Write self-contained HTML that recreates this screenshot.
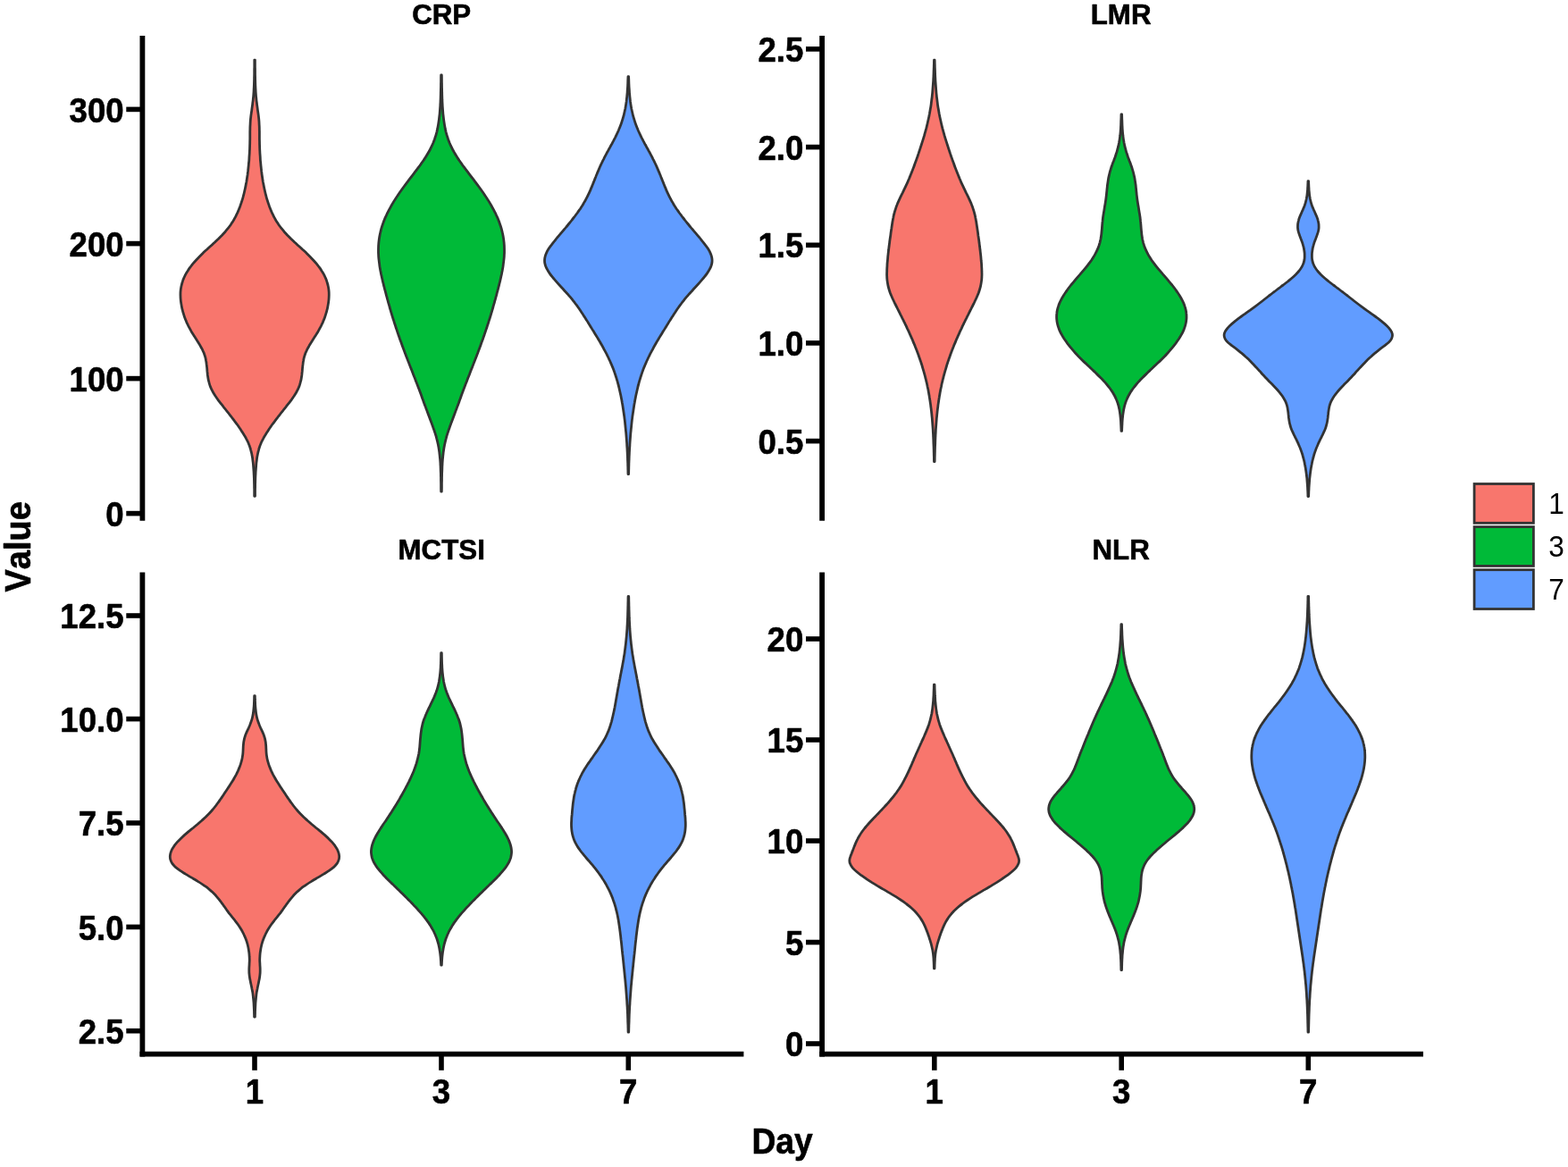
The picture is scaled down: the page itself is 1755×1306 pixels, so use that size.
<!DOCTYPE html>
<html lang="en"><head><meta charset="utf-8"><title>Violin plots: CRP, LMR, MCTSI, NLR by Day</title>
<style>
html,body{margin:0;padding:0;background:#fff;}
body{width:1755px;height:1306px;overflow:hidden;}
svg{display:block;}
text{font-family:"Liberation Sans", Arial, Helvetica, sans-serif;fill:#000;font-kerning:none;}
.b{font-weight:700;stroke:#000;stroke-width:0.6px;stroke-linejoin:round;}
.tk{font-size:36.6px;font-weight:700;}
.tt{font-size:31.3px;font-weight:700;}
.al{font-size:37.6px;font-weight:700;}
.lg{font-size:31.6px;font-weight:400;}
.ax{stroke:#000;fill:none;}
.v{stroke:#333333;stroke-width:2.8;stroke-linejoin:round;stroke-linecap:butt;}
</style></head><body>
<svg width="1755" height="1306" viewBox="0 0 1755 1306">
<rect x="0" y="0" width="1755" height="1306" fill="#fff"/>
<g class="v">
<path fill="#F8766D" d="M284.8 67.1L285.4 67.1C285.4 68.4 285.4 69.8 285.4 71.1C285.4 72.4 285.4 73.8 285.4 75.1C285.5 76.4 285.5 77.8 285.5 79.1C285.5 80.4 285.5 81.8 285.5 83.1C285.5 84.4 285.6 85.8 285.6 87.1C285.6 88.4 285.6 89.8 285.7 91.1C285.7 92.4 285.8 93.8 285.8 95.1C285.9 96.4 285.9 97.8 286 99.1C286.1 100.4 286.1 101.8 286.2 103.1C286.3 104.4 286.4 105.8 286.5 107.1C286.6 108.5 286.8 109.8 286.9 111.1C287 112.5 287.2 113.8 287.4 115.1C287.5 116.5 287.7 117.8 287.9 119.1C288.1 120.5 288.3 121.8 288.4 123.1C288.6 124.5 288.8 125.8 289 127.1C289.2 128.5 289.4 129.8 289.5 131.1C289.7 132.5 289.8 133.8 289.9 135.1C290 136.5 290.1 137.8 290.1 139.1C290.2 140.5 290.3 141.8 290.3 143.1C290.3 144.5 290.3 145.8 290.4 147.1C290.4 148.5 290.4 149.8 290.4 151.1C290.4 152.5 290.4 153.8 290.4 155.1C290.4 156.5 290.5 157.8 290.5 159.1C290.5 160.5 290.5 161.8 290.6 163.1C290.6 164.5 290.7 165.8 290.7 167.1C290.8 168.5 290.9 169.8 290.9 171.1C291 172.5 291.1 173.8 291.2 175.1C291.3 176.5 291.3 177.8 291.4 179.1C291.5 180.5 291.7 181.8 291.8 183.1C291.9 184.5 292 185.8 292.2 187.1C292.3 188.5 292.5 189.8 292.6 191.2C292.8 192.5 292.9 193.8 293.1 195.2C293.3 196.5 293.5 197.8 293.7 199.2C293.9 200.5 294.1 201.8 294.3 203.2C294.6 204.5 294.8 205.8 295.1 207.2C295.3 208.5 295.6 209.8 295.9 211.2C296.2 212.5 296.5 213.8 296.8 215.2C297.1 216.5 297.4 217.8 297.8 219.2C298.1 220.5 298.5 221.8 298.9 223.2C299.3 224.5 299.7 225.8 300.2 227.2C300.6 228.5 301.1 229.8 301.6 231.2C302.1 232.5 302.6 233.8 303.2 235.2C303.7 236.5 304.3 237.8 304.9 239.2C305.6 240.5 306.2 241.8 306.9 243.2C307.6 244.5 308.4 245.8 309.2 247.2C310 248.5 310.9 249.8 311.8 251.2C312.7 252.5 313.7 253.8 314.7 255.2C315.8 256.5 316.9 257.8 318 259.2C319.2 260.5 320.4 261.8 321.7 263.2C323 264.5 324.3 265.8 325.7 267.2C327.1 268.5 328.5 269.8 329.9 271.2C331.4 272.5 332.8 273.9 334.3 275.2C335.8 276.5 337.3 277.9 338.7 279.2C340.2 280.5 341.6 281.9 343 283.2C344.3 284.5 345.7 285.9 347 287.2C348.3 288.5 349.6 289.9 350.8 291.2C352 292.5 353.2 293.9 354.3 295.2C355.4 296.5 356.4 297.9 357.4 299.2C358.4 300.5 359.3 301.9 360.1 303.2C361 304.5 361.8 305.9 362.5 307.2C363.2 308.5 363.8 309.9 364.4 311.2C365 312.5 365.5 313.9 365.9 315.2C366.4 316.5 366.7 317.9 367 319.2C367.4 320.5 367.6 321.9 367.8 323.2C368 324.5 368.1 325.9 368.2 327.2C368.2 328.5 368.3 329.9 368.2 331.2C368.2 332.5 368.1 333.9 368 335.2C367.9 336.5 367.7 337.9 367.5 339.2C367.3 340.5 367.1 341.9 366.8 343.2C366.6 344.5 366.3 345.9 365.9 347.2C365.6 348.5 365.2 349.9 364.8 351.2C364.4 352.6 364 353.9 363.5 355.2C363 356.6 362.5 357.9 361.9 359.2C361.4 360.6 360.8 361.9 360.1 363.2C359.5 364.6 358.8 365.9 358.1 367.2C357.4 368.6 356.6 369.9 355.9 371.2C355.1 372.6 354.2 373.9 353.4 375.2C352.5 376.6 351.7 377.9 350.8 379.2C349.9 380.6 349.1 381.9 348.3 383.2C347.4 384.6 346.6 385.9 345.9 387.2C345.1 388.6 344.4 389.9 343.7 391.2C343.1 392.6 342.5 393.9 341.9 395.2C341.4 396.6 341 397.9 340.6 399.2C340.2 400.6 339.9 401.9 339.7 403.2C339.4 404.6 339.2 405.9 339.1 407.2C338.9 408.6 338.8 409.9 338.6 411.2C338.5 412.6 338.4 413.9 338.3 415.2C338.1 416.6 338 417.9 337.9 419.2C337.7 420.6 337.5 421.9 337.3 423.2C337.1 424.6 336.8 425.9 336.4 427.2C336.1 428.6 335.7 429.9 335.3 431.2C334.8 432.6 334.3 433.9 333.6 435.3C333 436.6 332.3 437.9 331.6 439.3C330.8 440.6 330 441.9 329.1 443.3C328.2 444.6 327.2 445.9 326.3 447.3C325.3 448.6 324.3 449.9 323.2 451.3C322.2 452.6 321.1 453.9 320.1 455.3C319 456.6 317.9 457.9 316.9 459.3C315.8 460.6 314.7 461.9 313.7 463.3C312.6 464.6 311.6 465.9 310.6 467.3C309.6 468.6 308.5 469.9 307.6 471.3C306.6 472.6 305.6 473.9 304.6 475.3C303.7 476.6 302.7 477.9 301.8 479.3C300.9 480.6 300.1 481.9 299.2 483.3C298.4 484.6 297.5 485.9 296.7 487.3C295.9 488.6 295.1 489.9 294.4 491.3C293.7 492.6 293 493.9 292.4 495.3C291.9 496.6 291.3 497.9 290.8 499.3C290.4 500.6 289.9 501.9 289.6 503.3C289.2 504.6 288.9 505.9 288.6 507.3C288.3 508.6 288.1 509.9 287.8 511.3C287.6 512.6 287.4 513.9 287.3 515.3C287.1 516.6 286.9 518 286.8 519.3C286.7 520.6 286.6 522 286.5 523.3C286.4 524.6 286.3 526 286.2 527.3C286.1 528.6 286.1 530 286 531.3C285.9 532.6 285.9 534 285.8 535.3C285.8 536.6 285.7 538 285.7 539.3C285.7 540.6 285.6 542 285.6 543.3C285.6 544.6 285.6 546 285.5 547.3C285.5 548.6 285.5 550 285.5 551.3C285.5 552.6 285.5 554 285.5 555.3L284.7 555.3C284.7 554 284.7 552.6 284.7 551.3C284.7 550 284.7 548.6 284.7 547.3C284.6 546 284.6 544.6 284.6 543.3C284.6 542 284.5 540.6 284.5 539.3C284.5 538 284.4 536.6 284.4 535.3C284.3 534 284.3 532.6 284.2 531.3C284.1 530 284.1 528.6 284 527.3C283.9 526 283.8 524.6 283.7 523.3C283.6 522 283.5 520.6 283.4 519.3C283.3 518 283.1 516.6 282.9 515.3C282.8 513.9 282.6 512.6 282.4 511.3C282.1 509.9 281.9 508.6 281.6 507.3C281.3 505.9 281 504.6 280.6 503.3C280.3 501.9 279.8 500.6 279.4 499.3C278.9 497.9 278.3 496.6 277.8 495.3C277.2 493.9 276.5 492.6 275.8 491.3C275.1 489.9 274.3 488.6 273.5 487.3C272.7 485.9 271.8 484.6 271 483.3C270.1 481.9 269.3 480.6 268.4 479.3C267.5 477.9 266.5 476.6 265.6 475.3C264.6 473.9 263.6 472.6 262.6 471.3C261.7 469.9 260.6 468.6 259.6 467.3C258.6 465.9 257.6 464.6 256.5 463.3C255.5 461.9 254.4 460.6 253.3 459.3C252.3 457.9 251.2 456.6 250.1 455.3C249.1 453.9 248 452.6 247 451.3C245.9 449.9 244.9 448.6 243.9 447.3C243 445.9 242 444.6 241.1 443.3C240.2 441.9 239.4 440.6 238.6 439.3C237.9 437.9 237.2 436.6 236.6 435.3C235.9 433.9 235.4 432.6 234.9 431.2C234.5 429.9 234.1 428.6 233.8 427.2C233.4 425.9 233.1 424.6 232.9 423.2C232.7 421.9 232.5 420.6 232.3 419.2C232.2 417.9 232.1 416.6 231.9 415.2C231.8 413.9 231.7 412.6 231.6 411.2C231.4 409.9 231.3 408.6 231.1 407.2C231 405.9 230.8 404.6 230.5 403.2C230.3 401.9 230 400.6 229.6 399.2C229.2 397.9 228.8 396.6 228.3 395.2C227.7 393.9 227.1 392.6 226.5 391.2C225.8 389.9 225.1 388.6 224.3 387.2C223.6 385.9 222.8 384.6 221.9 383.2C221.1 381.9 220.3 380.6 219.4 379.2C218.5 377.9 217.7 376.6 216.8 375.2C216 373.9 215.1 372.6 214.3 371.2C213.6 369.9 212.8 368.6 212.1 367.2C211.4 365.9 210.7 364.6 210.1 363.2C209.4 361.9 208.8 360.6 208.3 359.2C207.7 357.9 207.2 356.6 206.7 355.2C206.2 353.9 205.8 352.6 205.4 351.2C205 349.9 204.6 348.5 204.3 347.2C203.9 345.9 203.6 344.5 203.4 343.2C203.1 341.9 202.9 340.5 202.7 339.2C202.5 337.9 202.3 336.5 202.2 335.2C202.1 333.9 202 332.5 202 331.2C201.9 329.9 202 328.5 202 327.2C202.1 325.9 202.2 324.5 202.4 323.2C202.6 321.9 202.8 320.5 203.2 319.2C203.5 317.9 203.8 316.5 204.3 315.2C204.7 313.9 205.2 312.5 205.8 311.2C206.4 309.9 207 308.5 207.7 307.2C208.4 305.9 209.2 304.5 210.1 303.2C210.9 301.9 211.8 300.5 212.8 299.2C213.8 297.9 214.8 296.5 215.9 295.2C217 293.9 218.2 292.5 219.4 291.2C220.6 289.9 221.9 288.5 223.2 287.2C224.5 285.9 225.9 284.5 227.2 283.2C228.6 281.9 230 280.5 231.5 279.2C232.9 277.9 234.4 276.5 235.9 275.2C237.4 273.9 238.8 272.5 240.3 271.2C241.7 269.8 243.1 268.5 244.5 267.2C245.9 265.8 247.2 264.5 248.5 263.2C249.8 261.8 251 260.5 252.2 259.2C253.3 257.8 254.4 256.5 255.5 255.2C256.5 253.8 257.5 252.5 258.4 251.2C259.3 249.8 260.2 248.5 261 247.2C261.8 245.8 262.6 244.5 263.3 243.2C264 241.8 264.6 240.5 265.3 239.2C265.9 237.8 266.5 236.5 267 235.2C267.6 233.8 268.1 232.5 268.6 231.2C269.1 229.8 269.6 228.5 270 227.2C270.5 225.8 270.9 224.5 271.3 223.2C271.7 221.8 272.1 220.5 272.4 219.2C272.8 217.8 273.1 216.5 273.4 215.2C273.7 213.8 274 212.5 274.3 211.2C274.6 209.8 274.9 208.5 275.1 207.2C275.4 205.8 275.6 204.5 275.9 203.2C276.1 201.8 276.3 200.5 276.5 199.2C276.7 197.8 276.9 196.5 277.1 195.2C277.3 193.8 277.4 192.5 277.6 191.2C277.7 189.8 277.9 188.5 278 187.1C278.2 185.8 278.3 184.5 278.4 183.1C278.5 181.8 278.7 180.5 278.8 179.1C278.9 177.8 278.9 176.5 279 175.1C279.1 173.8 279.2 172.5 279.3 171.1C279.3 169.8 279.4 168.5 279.5 167.1C279.5 165.8 279.6 164.5 279.6 163.1C279.7 161.8 279.7 160.5 279.7 159.1C279.7 157.8 279.8 156.5 279.8 155.1C279.8 153.8 279.8 152.5 279.8 151.1C279.8 149.8 279.8 148.5 279.8 147.1C279.9 145.8 279.9 144.5 279.9 143.1C279.9 141.8 280 140.5 280.1 139.1C280.1 137.8 280.2 136.5 280.3 135.1C280.4 133.8 280.5 132.5 280.7 131.1C280.8 129.8 281 128.5 281.2 127.1C281.4 125.8 281.6 124.5 281.8 123.1C281.9 121.8 282.1 120.5 282.3 119.1C282.5 117.8 282.7 116.5 282.8 115.1C283 113.8 283.2 112.5 283.3 111.1C283.4 109.8 283.6 108.5 283.7 107.1C283.8 105.8 283.9 104.4 284 103.1C284.1 101.8 284.1 100.4 284.2 99.1C284.3 97.8 284.3 96.4 284.4 95.1C284.4 93.8 284.5 92.4 284.5 91.1C284.6 89.8 284.6 88.4 284.6 87.1C284.6 85.8 284.7 84.4 284.7 83.1C284.7 81.8 284.7 80.4 284.7 79.1C284.7 77.8 284.7 76.4 284.8 75.1C284.8 73.8 284.8 72.4 284.8 71.1C284.8 69.8 284.8 68.4 284.8 67.1Z"/>
<path fill="#00BA38" d="M493.7 83.8L494.3 83.8C494.4 85.1 494.4 86.5 494.4 87.8C494.4 89.1 494.4 90.4 494.4 91.8C494.5 93.1 494.5 94.4 494.5 95.8C494.5 97.1 494.5 98.4 494.6 99.7C494.6 101.1 494.6 102.4 494.7 103.7C494.7 105.1 494.7 106.4 494.8 107.7C494.8 109 494.9 110.4 494.9 111.7C495 113 495 114.4 495.1 115.7C495.2 117 495.2 118.3 495.3 119.7C495.4 121 495.5 122.3 495.6 123.7C495.7 125 495.8 126.3 495.9 127.6C496.1 129 496.2 130.3 496.4 131.6C496.5 133 496.7 134.3 496.9 135.6C497.1 136.9 497.3 138.3 497.5 139.6C497.7 140.9 498 142.3 498.2 143.6C498.5 144.9 498.8 146.2 499.1 147.6C499.5 148.9 499.8 150.2 500.2 151.6C500.6 152.9 501.1 154.2 501.5 155.5C502 156.9 502.5 158.2 503 159.5C503.6 160.9 504.1 162.2 504.8 163.5C505.4 164.8 506 166.2 506.7 167.5C507.4 168.8 508.2 170.2 509 171.5C509.7 172.8 510.5 174.1 511.4 175.5C512.2 176.8 513.1 178.1 514 179.5C514.9 180.8 515.8 182.1 516.8 183.4C517.7 184.8 518.7 186.1 519.7 187.4C520.7 188.8 521.7 190.1 522.7 191.4C523.7 192.7 524.7 194.1 525.7 195.4C526.7 196.7 527.7 198.1 528.8 199.4C529.8 200.7 530.8 202 531.8 203.4C532.8 204.7 533.8 206 534.8 207.3C535.8 208.7 536.7 210 537.7 211.3C538.7 212.7 539.6 214 540.5 215.3C541.4 216.6 542.4 218 543.2 219.3C544.1 220.6 545 222 545.8 223.3C546.7 224.6 547.5 225.9 548.3 227.3C549.1 228.6 549.8 229.9 550.6 231.3C551.3 232.6 552 233.9 552.7 235.2C553.4 236.6 554.1 237.9 554.8 239.2C555.4 240.6 556 241.9 556.6 243.2C557.2 244.5 557.7 245.9 558.2 247.2C558.8 248.5 559.2 249.9 559.7 251.2C560.2 252.5 560.6 253.8 561 255.2C561.4 256.5 561.7 257.8 562 259.2C562.4 260.5 562.6 261.8 562.9 263.1C563.2 264.5 563.4 265.8 563.6 267.1C563.8 268.5 563.9 269.8 564.1 271.1C564.2 272.4 564.3 273.8 564.4 275.1C564.4 276.4 564.5 277.8 564.5 279.1C564.5 280.4 564.5 281.7 564.5 283.1C564.4 284.4 564.3 285.7 564.3 287.1C564.2 288.4 564.1 289.7 563.9 291C563.8 292.4 563.6 293.7 563.4 295C563.3 296.4 563.1 297.7 562.9 299C562.6 300.3 562.4 301.7 562.2 303C561.9 304.3 561.6 305.7 561.4 307C561.1 308.3 560.8 309.6 560.5 311C560.2 312.3 559.9 313.6 559.6 315C559.3 316.3 558.9 317.6 558.6 318.9C558.3 320.3 557.9 321.6 557.6 322.9C557.2 324.3 556.9 325.6 556.5 326.9C556.2 328.2 555.8 329.6 555.5 330.9C555.1 332.2 554.7 333.6 554.4 334.9C554 336.2 553.6 337.5 553.3 338.9C552.9 340.2 552.5 341.5 552.1 342.9C551.8 344.2 551.4 345.5 551 346.8C550.6 348.2 550.2 349.5 549.8 350.8C549.4 352.2 549 353.5 548.6 354.8C548.2 356.1 547.8 357.5 547.3 358.8C546.9 360.1 546.5 361.5 546.1 362.8C545.6 364.1 545.2 365.4 544.8 366.8C544.3 368.1 543.9 369.4 543.4 370.8C543 372.1 542.5 373.4 542.1 374.7C541.6 376.1 541.1 377.4 540.7 378.7C540.2 380.1 539.7 381.4 539.2 382.7C538.8 384 538.3 385.4 537.8 386.7C537.3 388 536.8 389.4 536.3 390.7C535.8 392 535.3 393.3 534.8 394.7C534.3 396 533.8 397.3 533.3 398.7C532.8 400 532.3 401.3 531.8 402.6C531.3 404 530.7 405.3 530.2 406.6C529.7 408 529.2 409.3 528.7 410.6C528.1 411.9 527.6 413.3 527.1 414.6C526.6 415.9 526.1 417.3 525.6 418.6C525 419.9 524.5 421.2 524 422.6C523.5 423.9 523 425.2 522.5 426.6C521.9 427.9 521.4 429.2 520.9 430.5C520.4 431.9 519.9 433.2 519.4 434.5C518.9 435.8 518.4 437.2 517.9 438.5C517.4 439.8 516.9 441.2 516.4 442.5C516 443.8 515.5 445.1 515 446.5C514.5 447.8 514 449.1 513.6 450.5C513.1 451.8 512.6 453.1 512.1 454.4C511.6 455.8 511.1 457.1 510.6 458.4C510.1 459.8 509.6 461.1 509.1 462.4C508.6 463.7 508.1 465.1 507.6 466.4C507.1 467.7 506.6 469.1 506.1 470.4C505.6 471.7 505.1 473 504.6 474.4C504.1 475.7 503.6 477 503.2 478.4C502.7 479.7 502.2 481 501.8 482.3C501.4 483.7 500.9 485 500.5 486.3C500.1 487.7 499.7 489 499.4 490.3C499 491.6 498.7 493 498.4 494.3C498.1 495.6 497.8 497 497.5 498.3C497.3 499.6 497 500.9 496.8 502.3C496.6 503.6 496.4 504.9 496.2 506.3C496.1 507.6 495.9 508.9 495.8 510.2C495.7 511.6 495.5 512.9 495.4 514.2C495.3 515.6 495.2 516.9 495.1 518.2C495.1 519.5 495 520.9 494.9 522.2C494.9 523.5 494.8 524.9 494.8 526.2C494.7 527.5 494.7 528.8 494.6 530.2C494.6 531.5 494.6 532.8 494.5 534.2C494.5 535.5 494.5 536.8 494.5 538.1C494.4 539.5 494.4 540.8 494.4 542.1C494.4 543.5 494.4 544.8 494.4 546.1C494.4 547.4 494.4 548.8 494.3 550.1L493.7 550.1C493.6 548.8 493.6 547.4 493.6 546.1C493.6 544.8 493.6 543.5 493.6 542.1C493.6 540.8 493.6 539.5 493.5 538.1C493.5 536.8 493.5 535.5 493.5 534.2C493.4 532.8 493.4 531.5 493.4 530.2C493.3 528.8 493.3 527.5 493.2 526.2C493.2 524.9 493.1 523.5 493.1 522.2C493 520.9 492.9 519.5 492.9 518.2C492.8 516.9 492.7 515.6 492.6 514.2C492.5 512.9 492.3 511.6 492.2 510.2C492.1 508.9 491.9 507.6 491.8 506.3C491.6 504.9 491.4 503.6 491.2 502.3C491 500.9 490.7 499.6 490.5 498.3C490.2 497 489.9 495.6 489.6 494.3C489.3 493 489 491.6 488.6 490.3C488.3 489 487.9 487.7 487.5 486.3C487.1 485 486.6 483.7 486.2 482.3C485.8 481 485.3 479.7 484.8 478.4C484.4 477 483.9 475.7 483.4 474.4C482.9 473 482.4 471.7 481.9 470.4C481.4 469.1 480.9 467.7 480.4 466.4C479.9 465.1 479.4 463.7 478.9 462.4C478.4 461.1 477.9 459.8 477.4 458.4C476.9 457.1 476.4 455.8 475.9 454.4C475.4 453.1 474.9 451.8 474.4 450.5C474 449.1 473.5 447.8 473 446.5C472.5 445.1 472 443.8 471.6 442.5C471.1 441.2 470.6 439.8 470.1 438.5C469.6 437.2 469.1 435.8 468.6 434.5C468.1 433.2 467.6 431.9 467.1 430.5C466.6 429.2 466.1 427.9 465.5 426.6C465 425.2 464.5 423.9 464 422.6C463.5 421.2 463 419.9 462.4 418.6C461.9 417.3 461.4 415.9 460.9 414.6C460.4 413.3 459.9 411.9 459.3 410.6C458.8 409.3 458.3 408 457.8 406.6C457.3 405.3 456.7 404 456.2 402.6C455.7 401.3 455.2 400 454.7 398.7C454.2 397.3 453.7 396 453.2 394.7C452.7 393.3 452.2 392 451.7 390.7C451.2 389.4 450.7 388 450.2 386.7C449.7 385.4 449.2 384 448.8 382.7C448.3 381.4 447.8 380.1 447.3 378.7C446.9 377.4 446.4 376.1 445.9 374.7C445.5 373.4 445 372.1 444.6 370.8C444.1 369.4 443.7 368.1 443.2 366.8C442.8 365.4 442.4 364.1 441.9 362.8C441.5 361.5 441.1 360.1 440.7 358.8C440.2 357.5 439.8 356.1 439.4 354.8C439 353.5 438.6 352.2 438.2 350.8C437.8 349.5 437.4 348.2 437 346.8C436.6 345.5 436.2 344.2 435.9 342.9C435.5 341.5 435.1 340.2 434.7 338.9C434.4 337.5 434 336.2 433.6 334.9C433.3 333.6 432.9 332.2 432.5 330.9C432.2 329.6 431.8 328.2 431.5 326.9C431.1 325.6 430.8 324.3 430.4 322.9C430.1 321.6 429.7 320.3 429.4 318.9C429.1 317.6 428.7 316.3 428.4 315C428.1 313.6 427.8 312.3 427.5 311C427.2 309.6 426.9 308.3 426.6 307C426.4 305.7 426.1 304.3 425.8 303C425.6 301.7 425.4 300.3 425.1 299C424.9 297.7 424.7 296.4 424.6 295C424.4 293.7 424.2 292.4 424.1 291C423.9 289.7 423.8 288.4 423.7 287.1C423.7 285.7 423.6 284.4 423.5 283.1C423.5 281.7 423.5 280.4 423.5 279.1C423.5 277.8 423.6 276.4 423.6 275.1C423.7 273.8 423.8 272.4 423.9 271.1C424.1 269.8 424.2 268.5 424.4 267.1C424.6 265.8 424.8 264.5 425.1 263.1C425.4 261.8 425.6 260.5 426 259.2C426.3 257.8 426.6 256.5 427 255.2C427.4 253.8 427.8 252.5 428.3 251.2C428.8 249.9 429.2 248.5 429.8 247.2C430.3 245.9 430.8 244.5 431.4 243.2C432 241.9 432.6 240.6 433.2 239.2C433.9 237.9 434.6 236.6 435.3 235.2C436 233.9 436.7 232.6 437.4 231.3C438.2 229.9 438.9 228.6 439.7 227.3C440.5 225.9 441.3 224.6 442.2 223.3C443 222 443.9 220.6 444.8 219.3C445.6 218 446.6 216.6 447.5 215.3C448.4 214 449.3 212.7 450.3 211.3C451.3 210 452.2 208.7 453.2 207.3C454.2 206 455.2 204.7 456.2 203.4C457.2 202 458.2 200.7 459.2 199.4C460.3 198.1 461.3 196.7 462.3 195.4C463.3 194.1 464.3 192.7 465.3 191.4C466.3 190.1 467.3 188.8 468.3 187.4C469.3 186.1 470.3 184.8 471.2 183.4C472.2 182.1 473.1 180.8 474 179.5C474.9 178.1 475.8 176.8 476.6 175.5C477.5 174.1 478.3 172.8 479 171.5C479.8 170.2 480.6 168.8 481.3 167.5C482 166.2 482.6 164.8 483.2 163.5C483.9 162.2 484.4 160.9 485 159.5C485.5 158.2 486 156.9 486.5 155.5C486.9 154.2 487.4 152.9 487.8 151.6C488.2 150.2 488.5 148.9 488.9 147.6C489.2 146.2 489.5 144.9 489.8 143.6C490 142.3 490.3 140.9 490.5 139.6C490.7 138.3 490.9 136.9 491.1 135.6C491.3 134.3 491.5 133 491.6 131.6C491.8 130.3 491.9 129 492.1 127.6C492.2 126.3 492.3 125 492.4 123.7C492.5 122.3 492.6 121 492.7 119.7C492.8 118.3 492.8 117 492.9 115.7C493 114.4 493 113 493.1 111.7C493.1 110.4 493.2 109 493.2 107.7C493.3 106.4 493.3 105.1 493.3 103.7C493.4 102.4 493.4 101.1 493.4 99.7C493.5 98.4 493.5 97.1 493.5 95.8C493.5 94.4 493.5 93.1 493.6 91.8C493.6 90.4 493.6 89.1 493.6 87.8C493.6 86.5 493.6 85.1 493.7 83.8Z"/>
<path fill="#619CFF" d="M703 85.6L703.6 85.6C703.7 86.9 703.7 88.3 703.8 89.6C703.8 90.9 703.9 92.3 703.9 93.6C704 95 704 96.3 704.1 97.6C704.2 99 704.3 100.3 704.4 101.6C704.4 103 704.5 104.3 704.7 105.6C704.8 107 704.9 108.3 705.1 109.7C705.2 111 705.4 112.3 705.5 113.7C705.7 115 705.9 116.3 706.1 117.7C706.3 119 706.6 120.4 706.8 121.7C707.1 123 707.4 124.4 707.7 125.7C708 127 708.3 128.4 708.6 129.7C709 131 709.4 132.4 709.8 133.7C710.2 135.1 710.6 136.4 711.1 137.7C711.6 139.1 712.1 140.4 712.6 141.7C713.1 143.1 713.7 144.4 714.2 145.7C714.8 147.1 715.4 148.4 716.1 149.8C716.7 151.1 717.3 152.4 718 153.8C718.7 155.1 719.4 156.4 720.1 157.8C720.8 159.1 721.5 160.5 722.2 161.8C723 163.1 723.7 164.5 724.4 165.8C725.2 167.1 725.9 168.5 726.6 169.8C727.4 171.1 728.1 172.5 728.8 173.8C729.5 175.2 730.2 176.5 730.8 177.8C731.5 179.2 732.2 180.5 732.8 181.8C733.4 183.2 734.1 184.5 734.7 185.8C735.3 187.2 735.9 188.5 736.5 189.9C737 191.2 737.6 192.5 738.2 193.9C738.7 195.2 739.3 196.5 739.8 197.9C740.3 199.2 740.9 200.6 741.4 201.9C741.9 203.2 742.5 204.6 743 205.9C743.5 207.2 744.1 208.6 744.6 209.9C745.2 211.2 745.7 212.6 746.3 213.9C746.9 215.3 747.5 216.6 748.2 217.9C748.8 219.3 749.5 220.6 750.2 221.9C750.9 223.3 751.6 224.6 752.4 225.9C753.2 227.3 754 228.6 754.8 230C755.7 231.3 756.5 232.6 757.4 234C758.3 235.3 759.3 236.6 760.2 238C761.2 239.3 762.2 240.6 763.2 242C764.2 243.3 765.2 244.7 766.3 246C767.3 247.3 768.4 248.7 769.5 250C770.6 251.3 771.7 252.7 772.8 254C773.9 255.4 775 256.7 776.2 258C777.3 259.4 778.5 260.7 779.6 262C780.7 263.4 781.9 264.7 783 266C784.1 267.4 785.2 268.7 786.3 270.1C787.4 271.4 788.4 272.7 789.4 274.1C790.4 275.4 791.4 276.7 792.3 278.1C793.1 279.4 793.9 280.7 794.6 282.1C795.2 283.4 795.8 284.8 796.2 286.1C796.6 287.4 796.9 288.8 797 290.1C797.1 291.4 797.1 292.8 796.9 294.1C796.6 295.5 796.3 296.8 795.8 298.1C795.2 299.5 794.6 300.8 793.8 302.1C793.1 303.5 792.2 304.8 791.3 306.1C790.3 307.5 789.3 308.8 788.2 310.2C787.2 311.5 786 312.8 784.8 314.2C783.7 315.5 782.5 316.8 781.2 318.2C780 319.5 778.8 320.8 777.5 322.2C776.3 323.5 775.1 324.9 773.9 326.2C772.6 327.5 771.4 328.9 770.3 330.2C769.1 331.5 768 332.9 766.9 334.2C765.8 335.6 764.7 336.9 763.7 338.2C762.7 339.6 761.7 340.9 760.7 342.2C759.8 343.6 758.8 344.9 757.9 346.2C757 347.6 756.1 348.9 755.2 350.3C754.3 351.6 753.5 352.9 752.6 354.3C751.8 355.6 750.9 356.9 750.1 358.3C749.2 359.6 748.4 360.9 747.6 362.3C746.7 363.6 745.9 365 745.1 366.3C744.3 367.6 743.5 369 742.6 370.3C741.8 371.6 741 373 740.2 374.3C739.4 375.7 738.5 377 737.7 378.3C736.9 379.7 736.1 381 735.3 382.3C734.5 383.7 733.8 385 733 386.3C732.2 387.7 731.5 389 730.8 390.4C730 391.7 729.3 393 728.6 394.4C727.9 395.7 727.2 397 726.6 398.4C725.9 399.7 725.3 401 724.7 402.4C724 403.7 723.4 405.1 722.9 406.4C722.3 407.7 721.7 409.1 721.2 410.4C720.6 411.7 720.1 413.1 719.6 414.4C719.1 415.7 718.7 417.1 718.2 418.4C717.8 419.8 717.3 421.1 716.9 422.4C716.5 423.8 716.1 425.1 715.7 426.4C715.3 427.8 714.9 429.1 714.6 430.5C714.2 431.8 713.9 433.1 713.6 434.5C713.3 435.8 713 437.1 712.7 438.5C712.4 439.8 712.1 441.1 711.8 442.5C711.5 443.8 711.3 445.2 711 446.5C710.7 447.8 710.5 449.2 710.3 450.5C710 451.8 709.8 453.2 709.6 454.5C709.4 455.8 709.2 457.2 709 458.5C708.8 459.9 708.6 461.2 708.4 462.5C708.2 463.9 708 465.2 707.8 466.5C707.7 467.9 707.5 469.2 707.3 470.6C707.2 471.9 707 473.2 706.9 474.6C706.7 475.9 706.6 477.2 706.5 478.6C706.3 479.9 706.2 481.2 706.1 482.6C705.9 483.9 705.8 485.3 705.7 486.6C705.6 487.9 705.5 489.3 705.4 490.6C705.3 491.9 705.2 493.3 705.1 494.6C705 495.9 704.9 497.3 704.9 498.6C704.8 500 704.7 501.3 704.6 502.6C704.6 504 704.5 505.3 704.4 506.6C704.4 508 704.3 509.3 704.2 510.7C704.2 512 704.1 513.3 704.1 514.7C704 516 704 517.3 703.9 518.7C703.9 520 703.9 521.3 703.8 522.7C703.8 524 703.8 525.4 703.7 526.7C703.7 528 703.7 529.4 703.6 530.7L703 530.7C702.9 529.4 702.9 528 702.9 526.7C702.8 525.4 702.8 524 702.8 522.7C702.7 521.3 702.7 520 702.7 518.7C702.6 517.3 702.6 516 702.5 514.7C702.5 513.3 702.4 512 702.4 510.7C702.3 509.3 702.2 508 702.2 506.6C702.1 505.3 702 504 702 502.6C701.9 501.3 701.8 500 701.7 498.6C701.7 497.3 701.6 495.9 701.5 494.6C701.4 493.3 701.3 491.9 701.2 490.6C701.1 489.3 701 487.9 700.9 486.6C700.8 485.3 700.7 483.9 700.5 482.6C700.4 481.2 700.3 479.9 700.1 478.6C700 477.2 699.9 475.9 699.7 474.6C699.6 473.2 699.4 471.9 699.3 470.6C699.1 469.2 698.9 467.9 698.8 466.5C698.6 465.2 698.4 463.9 698.2 462.5C698 461.2 697.8 459.9 697.6 458.5C697.4 457.2 697.2 455.8 697 454.5C696.8 453.2 696.6 451.8 696.3 450.5C696.1 449.2 695.9 447.8 695.6 446.5C695.3 445.2 695.1 443.8 694.8 442.5C694.5 441.1 694.2 439.8 693.9 438.5C693.6 437.1 693.3 435.8 693 434.5C692.7 433.1 692.4 431.8 692 430.5C691.7 429.1 691.3 427.8 690.9 426.4C690.5 425.1 690.1 423.8 689.7 422.4C689.3 421.1 688.8 419.8 688.4 418.4C687.9 417.1 687.5 415.7 687 414.4C686.5 413.1 686 411.7 685.4 410.4C684.9 409.1 684.3 407.7 683.7 406.4C683.2 405.1 682.6 403.7 681.9 402.4C681.3 401 680.7 399.7 680 398.4C679.4 397 678.7 395.7 678 394.4C677.3 393 676.6 391.7 675.8 390.4C675.1 389 674.4 387.7 673.6 386.3C672.8 385 672.1 383.7 671.3 382.3C670.5 381 669.7 379.7 668.9 378.3C668.1 377 667.2 375.7 666.4 374.3C665.6 373 664.8 371.6 664 370.3C663.1 369 662.3 367.6 661.5 366.3C660.7 365 659.9 363.6 659 362.3C658.2 360.9 657.4 359.6 656.5 358.3C655.7 356.9 654.8 355.6 654 354.3C653.1 352.9 652.3 351.6 651.4 350.3C650.5 348.9 649.6 347.6 648.7 346.2C647.8 344.9 646.8 343.6 645.9 342.2C644.9 340.9 643.9 339.6 642.9 338.2C641.9 336.9 640.8 335.6 639.7 334.2C638.6 332.9 637.5 331.5 636.3 330.2C635.2 328.9 634 327.5 632.7 326.2C631.5 324.9 630.3 323.5 629.1 322.2C627.8 320.8 626.6 319.5 625.4 318.2C624.1 316.8 622.9 315.5 621.8 314.2C620.6 312.8 619.4 311.5 618.4 310.2C617.3 308.8 616.3 307.5 615.3 306.1C614.4 304.8 613.5 303.5 612.8 302.1C612 300.8 611.4 299.5 610.8 298.1C610.3 296.8 610 295.5 609.7 294.1C609.5 292.8 609.5 291.4 609.6 290.1C609.7 288.8 610 287.4 610.4 286.1C610.8 284.8 611.4 283.4 612 282.1C612.7 280.7 613.5 279.4 614.3 278.1C615.2 276.7 616.2 275.4 617.2 274.1C618.2 272.7 619.2 271.4 620.3 270.1C621.4 268.7 622.5 267.4 623.6 266C624.7 264.7 625.9 263.4 627 262C628.1 260.7 629.3 259.4 630.4 258C631.6 256.7 632.7 255.4 633.8 254C634.9 252.7 636 251.3 637.1 250C638.2 248.7 639.3 247.3 640.3 246C641.4 244.7 642.4 243.3 643.4 242C644.4 240.6 645.4 239.3 646.4 238C647.3 236.6 648.3 235.3 649.2 234C650.1 232.6 650.9 231.3 651.8 230C652.6 228.6 653.4 227.3 654.2 225.9C655 224.6 655.7 223.3 656.4 221.9C657.1 220.6 657.8 219.3 658.4 217.9C659.1 216.6 659.7 215.3 660.3 213.9C660.9 212.6 661.4 211.2 662 209.9C662.5 208.6 663.1 207.2 663.6 205.9C664.1 204.6 664.7 203.2 665.2 201.9C665.7 200.6 666.3 199.2 666.8 197.9C667.3 196.5 667.9 195.2 668.4 193.9C669 192.5 669.6 191.2 670.1 189.9C670.7 188.5 671.3 187.2 671.9 185.8C672.5 184.5 673.2 183.2 673.8 181.8C674.4 180.5 675.1 179.2 675.8 177.8C676.4 176.5 677.1 175.2 677.8 173.8C678.5 172.5 679.2 171.1 680 169.8C680.7 168.5 681.4 167.1 682.2 165.8C682.9 164.5 683.6 163.1 684.4 161.8C685.1 160.5 685.8 159.1 686.5 157.8C687.2 156.4 687.9 155.1 688.6 153.8C689.3 152.4 689.9 151.1 690.5 149.8C691.2 148.4 691.8 147.1 692.4 145.7C692.9 144.4 693.5 143.1 694 141.7C694.5 140.4 695 139.1 695.5 137.7C696 136.4 696.4 135.1 696.8 133.7C697.2 132.4 697.6 131 698 129.7C698.3 128.4 698.6 127 698.9 125.7C699.2 124.4 699.5 123 699.8 121.7C700 120.4 700.3 119 700.5 117.7C700.7 116.3 700.9 115 701.1 113.7C701.2 112.3 701.4 111 701.5 109.7C701.7 108.3 701.8 107 701.9 105.6C702.1 104.3 702.2 103 702.2 101.6C702.3 100.3 702.4 99 702.5 97.6C702.6 96.3 702.6 95 702.7 93.6C702.7 92.3 702.8 90.9 702.8 89.6C702.9 88.3 702.9 86.9 703 85.6Z"/>
<path fill="#F8766D" d="M1045.5 67.1L1046.1 67.1C1046.2 68.4 1046.2 69.8 1046.2 71.1C1046.3 72.5 1046.3 73.8 1046.3 75.1C1046.4 76.5 1046.4 77.8 1046.5 79.1C1046.5 80.5 1046.6 81.8 1046.6 83.2C1046.7 84.5 1046.7 85.8 1046.8 87.2C1046.9 88.5 1046.9 89.8 1047 91.2C1047.1 92.5 1047.2 93.9 1047.3 95.2C1047.4 96.5 1047.5 97.9 1047.6 99.2C1047.7 100.5 1047.8 101.9 1047.9 103.2C1048 104.6 1048.2 105.9 1048.3 107.2C1048.4 108.6 1048.6 109.9 1048.8 111.2C1048.9 112.6 1049.1 113.9 1049.3 115.3C1049.4 116.6 1049.6 117.9 1049.8 119.3C1050 120.6 1050.3 121.9 1050.5 123.3C1050.7 124.6 1051 126 1051.2 127.3C1051.5 128.6 1051.7 130 1052 131.3C1052.3 132.7 1052.6 134 1052.9 135.3C1053.2 136.7 1053.5 138 1053.8 139.3C1054.1 140.7 1054.5 142 1054.8 143.4C1055.2 144.7 1055.5 146 1055.9 147.4C1056.3 148.7 1056.7 150 1057 151.4C1057.4 152.7 1057.8 154.1 1058.2 155.4C1058.6 156.7 1059.1 158.1 1059.5 159.4C1059.9 160.7 1060.3 162.1 1060.8 163.4C1061.2 164.8 1061.6 166.1 1062.1 167.4C1062.5 168.8 1063 170.1 1063.4 171.4C1063.9 172.8 1064.3 174.1 1064.8 175.5C1065.3 176.8 1065.7 178.1 1066.2 179.5C1066.7 180.8 1067.2 182.2 1067.7 183.5C1068.1 184.8 1068.6 186.2 1069.1 187.5C1069.6 188.8 1070.2 190.2 1070.7 191.5C1071.2 192.9 1071.7 194.2 1072.3 195.5C1072.8 196.9 1073.4 198.2 1073.9 199.5C1074.5 200.9 1075.1 202.2 1075.6 203.6C1076.2 204.9 1076.8 206.2 1077.5 207.6C1078.1 208.9 1078.7 210.2 1079.4 211.6C1080 212.9 1080.7 214.3 1081.3 215.6C1082 216.9 1082.7 218.3 1083.3 219.6C1083.9 220.9 1084.6 222.3 1085.2 223.6C1085.8 225 1086.4 226.3 1087 227.6C1087.5 229 1088 230.3 1088.5 231.6C1089 233 1089.4 234.3 1089.8 235.7C1090.2 237 1090.6 238.3 1090.9 239.7C1091.3 241 1091.6 242.4 1091.8 243.7C1092.1 245 1092.3 246.4 1092.6 247.7C1092.8 249 1093 250.4 1093.2 251.7C1093.4 253.1 1093.6 254.4 1093.8 255.7C1094 257.1 1094.2 258.4 1094.4 259.7C1094.6 261.1 1094.7 262.4 1094.9 263.8C1095.1 265.1 1095.3 266.4 1095.5 267.8C1095.7 269.1 1095.9 270.4 1096 271.8C1096.2 273.1 1096.4 274.5 1096.5 275.8C1096.7 277.1 1096.9 278.5 1097 279.8C1097.2 281.1 1097.3 282.5 1097.5 283.8C1097.6 285.2 1097.8 286.5 1097.9 287.8C1098 289.2 1098.1 290.5 1098.2 291.8C1098.4 293.2 1098.5 294.5 1098.6 295.9C1098.6 297.2 1098.7 298.5 1098.8 299.9C1098.9 301.2 1098.9 302.6 1098.9 303.9C1099 305.2 1099 306.6 1099 307.9C1098.9 309.2 1098.9 310.6 1098.8 311.9C1098.7 313.3 1098.5 314.6 1098.3 315.9C1098.1 317.3 1097.9 318.6 1097.6 319.9C1097.3 321.3 1096.9 322.6 1096.5 324C1096.1 325.3 1095.7 326.6 1095.2 328C1094.7 329.3 1094.1 330.6 1093.5 332C1093 333.3 1092.3 334.7 1091.7 336C1091.1 337.3 1090.4 338.7 1089.8 340C1089.1 341.3 1088.4 342.7 1087.7 344C1087.1 345.4 1086.4 346.7 1085.7 348C1085 349.4 1084.3 350.7 1083.7 352.1C1083 353.4 1082.3 354.7 1081.7 356.1C1081 357.4 1080.3 358.7 1079.7 360.1C1079 361.4 1078.4 362.8 1077.7 364.1C1077.1 365.4 1076.5 366.8 1075.9 368.1C1075.2 369.4 1074.6 370.8 1074 372.1C1073.4 373.5 1072.8 374.8 1072.2 376.1C1071.6 377.5 1071 378.8 1070.4 380.1C1069.9 381.5 1069.3 382.8 1068.8 384.2C1068.2 385.5 1067.6 386.8 1067.1 388.2C1066.6 389.5 1066.1 390.8 1065.5 392.2C1065 393.5 1064.5 394.9 1064 396.2C1063.5 397.5 1063.1 398.9 1062.6 400.2C1062.1 401.5 1061.7 402.9 1061.2 404.2C1060.8 405.6 1060.3 406.9 1059.9 408.2C1059.5 409.6 1059.1 410.9 1058.7 412.3C1058.3 413.6 1057.9 414.9 1057.5 416.3C1057.1 417.6 1056.8 418.9 1056.4 420.3C1056.1 421.6 1055.7 423 1055.4 424.3C1055.1 425.6 1054.7 427 1054.4 428.3C1054.1 429.6 1053.8 431 1053.6 432.3C1053.3 433.7 1053 435 1052.7 436.3C1052.5 437.7 1052.2 439 1052 440.3C1051.8 441.7 1051.5 443 1051.3 444.4C1051.1 445.7 1050.9 447 1050.7 448.4C1050.5 449.7 1050.3 451 1050.1 452.4C1049.9 453.7 1049.8 455.1 1049.6 456.4C1049.4 457.7 1049.3 459.1 1049.1 460.4C1049 461.8 1048.8 463.1 1048.7 464.4C1048.6 465.8 1048.4 467.1 1048.3 468.4C1048.2 469.8 1048.1 471.1 1048 472.5C1047.9 473.8 1047.8 475.1 1047.7 476.5C1047.6 477.8 1047.5 479.1 1047.4 480.5C1047.3 481.8 1047.3 483.2 1047.2 484.5C1047.1 485.8 1047 487.2 1047 488.5C1046.9 489.8 1046.9 491.2 1046.8 492.5C1046.8 493.9 1046.7 495.2 1046.7 496.5C1046.6 497.9 1046.6 499.2 1046.5 500.5C1046.5 501.9 1046.4 503.2 1046.4 504.6C1046.4 505.9 1046.3 507.2 1046.3 508.6C1046.3 509.9 1046.2 511.2 1046.2 512.6C1046.2 513.9 1046.2 515.3 1046.1 516.6L1045.5 516.6C1045.4 515.3 1045.4 513.9 1045.4 512.6C1045.4 511.2 1045.3 509.9 1045.3 508.6C1045.3 507.2 1045.2 505.9 1045.2 504.6C1045.2 503.2 1045.1 501.9 1045.1 500.5C1045 499.2 1045 497.9 1044.9 496.5C1044.9 495.2 1044.8 493.9 1044.8 492.5C1044.7 491.2 1044.7 489.8 1044.6 488.5C1044.6 487.2 1044.5 485.8 1044.4 484.5C1044.3 483.2 1044.3 481.8 1044.2 480.5C1044.1 479.1 1044 477.8 1043.9 476.5C1043.8 475.1 1043.7 473.8 1043.6 472.5C1043.5 471.1 1043.4 469.8 1043.3 468.4C1043.2 467.1 1043 465.8 1042.9 464.4C1042.8 463.1 1042.6 461.8 1042.5 460.4C1042.3 459.1 1042.2 457.7 1042 456.4C1041.8 455.1 1041.7 453.7 1041.5 452.4C1041.3 451 1041.1 449.7 1040.9 448.4C1040.7 447 1040.5 445.7 1040.3 444.4C1040.1 443 1039.8 441.7 1039.6 440.3C1039.4 439 1039.1 437.7 1038.9 436.3C1038.6 435 1038.3 433.7 1038 432.3C1037.8 431 1037.5 429.6 1037.2 428.3C1036.9 427 1036.5 425.6 1036.2 424.3C1035.9 423 1035.5 421.6 1035.2 420.3C1034.8 418.9 1034.5 417.6 1034.1 416.3C1033.7 414.9 1033.3 413.6 1032.9 412.3C1032.5 410.9 1032.1 409.6 1031.7 408.2C1031.3 406.9 1030.8 405.6 1030.4 404.2C1029.9 402.9 1029.5 401.5 1029 400.2C1028.5 398.9 1028.1 397.5 1027.6 396.2C1027.1 394.9 1026.6 393.5 1026.1 392.2C1025.5 390.8 1025 389.5 1024.5 388.2C1024 386.8 1023.4 385.5 1022.8 384.2C1022.3 382.8 1021.7 381.5 1021.2 380.1C1020.6 378.8 1020 377.5 1019.4 376.1C1018.8 374.8 1018.2 373.5 1017.6 372.1C1017 370.8 1016.4 369.4 1015.7 368.1C1015.1 366.8 1014.5 365.4 1013.9 364.1C1013.2 362.8 1012.6 361.4 1011.9 360.1C1011.3 358.7 1010.6 357.4 1009.9 356.1C1009.3 354.7 1008.6 353.4 1007.9 352.1C1007.3 350.7 1006.6 349.4 1005.9 348C1005.2 346.7 1004.5 345.4 1003.9 344C1003.2 342.7 1002.5 341.3 1001.8 340C1001.2 338.7 1000.5 337.3 999.9 336C999.3 334.7 998.6 333.3 998.1 332C997.5 330.6 996.9 329.3 996.4 328C995.9 326.6 995.5 325.3 995.1 324C994.7 322.6 994.3 321.3 994 319.9C993.7 318.6 993.5 317.3 993.3 315.9C993.1 314.6 992.9 313.3 992.8 311.9C992.7 310.6 992.7 309.2 992.6 307.9C992.6 306.6 992.6 305.2 992.7 303.9C992.7 302.6 992.7 301.2 992.8 299.9C992.9 298.5 993 297.2 993 295.9C993.1 294.5 993.2 293.2 993.4 291.8C993.5 290.5 993.6 289.2 993.7 287.8C993.8 286.5 994 285.2 994.1 283.8C994.3 282.5 994.4 281.1 994.6 279.8C994.7 278.5 994.9 277.1 995.1 275.8C995.2 274.5 995.4 273.1 995.6 271.8C995.7 270.4 995.9 269.1 996.1 267.8C996.3 266.4 996.5 265.1 996.7 263.8C996.9 262.4 997 261.1 997.2 259.7C997.4 258.4 997.6 257.1 997.8 255.7C998 254.4 998.2 253.1 998.4 251.7C998.6 250.4 998.8 249 999 247.7C999.3 246.4 999.5 245 999.8 243.7C1000 242.4 1000.3 241 1000.7 239.7C1001 238.3 1001.4 237 1001.8 235.7C1002.2 234.3 1002.6 233 1003.1 231.6C1003.6 230.3 1004.1 229 1004.6 227.6C1005.2 226.3 1005.8 225 1006.4 223.6C1007 222.3 1007.7 220.9 1008.3 219.6C1008.9 218.3 1009.6 216.9 1010.3 215.6C1010.9 214.3 1011.6 212.9 1012.2 211.6C1012.9 210.2 1013.5 208.9 1014.1 207.6C1014.8 206.2 1015.4 204.9 1016 203.6C1016.5 202.2 1017.1 200.9 1017.7 199.5C1018.2 198.2 1018.8 196.9 1019.3 195.5C1019.9 194.2 1020.4 192.9 1020.9 191.5C1021.4 190.2 1022 188.8 1022.5 187.5C1023 186.2 1023.5 184.8 1023.9 183.5C1024.4 182.2 1024.9 180.8 1025.4 179.5C1025.9 178.1 1026.3 176.8 1026.8 175.5C1027.3 174.1 1027.7 172.8 1028.2 171.4C1028.6 170.1 1029.1 168.8 1029.5 167.4C1030 166.1 1030.4 164.8 1030.8 163.4C1031.3 162.1 1031.7 160.7 1032.1 159.4C1032.5 158.1 1033 156.7 1033.4 155.4C1033.8 154.1 1034.2 152.7 1034.6 151.4C1034.9 150 1035.3 148.7 1035.7 147.4C1036.1 146 1036.4 144.7 1036.8 143.4C1037.1 142 1037.5 140.7 1037.8 139.3C1038.1 138 1038.4 136.7 1038.7 135.3C1039 134 1039.3 132.7 1039.6 131.3C1039.9 130 1040.1 128.6 1040.4 127.3C1040.6 126 1040.9 124.6 1041.1 123.3C1041.3 121.9 1041.6 120.6 1041.8 119.3C1042 117.9 1042.2 116.6 1042.3 115.3C1042.5 113.9 1042.7 112.6 1042.8 111.2C1043 109.9 1043.2 108.6 1043.3 107.2C1043.4 105.9 1043.6 104.6 1043.7 103.2C1043.8 101.9 1043.9 100.5 1044 99.2C1044.1 97.9 1044.2 96.5 1044.3 95.2C1044.4 93.9 1044.5 92.5 1044.6 91.2C1044.7 89.8 1044.7 88.5 1044.8 87.2C1044.9 85.8 1044.9 84.5 1045 83.2C1045 81.8 1045.1 80.5 1045.1 79.1C1045.2 77.8 1045.2 76.5 1045.3 75.1C1045.3 73.8 1045.3 72.5 1045.4 71.1C1045.4 69.8 1045.4 68.4 1045.5 67.1Z"/>
<path fill="#00BA38" d="M1255 127.9L1255.6 127.9C1255.7 129.2 1255.7 130.6 1255.7 131.9C1255.8 133.2 1255.8 134.5 1255.9 135.9C1255.9 137.2 1256 138.5 1256 139.8C1256.1 141.2 1256.2 142.5 1256.2 143.8C1256.3 145.2 1256.4 146.5 1256.5 147.8C1256.6 149.1 1256.8 150.5 1256.9 151.8C1257.1 153.1 1257.2 154.4 1257.4 155.8C1257.6 157.1 1257.9 158.4 1258.1 159.8C1258.4 161.1 1258.6 162.4 1258.9 163.7C1259.3 165.1 1259.6 166.4 1260 167.7C1260.3 169 1260.7 170.4 1261.2 171.7C1261.6 173 1262.1 174.4 1262.5 175.7C1263 177 1263.5 178.3 1264 179.7C1264.5 181 1265 182.3 1265.5 183.6C1266 185 1266.4 186.3 1266.9 187.6C1267.3 189 1267.7 190.3 1268.1 191.6C1268.5 192.9 1268.8 194.3 1269.1 195.6C1269.4 196.9 1269.7 198.2 1270 199.6C1270.2 200.9 1270.4 202.2 1270.6 203.6C1270.8 204.9 1271 206.2 1271.2 207.5C1271.3 208.9 1271.4 210.2 1271.6 211.5C1271.7 212.8 1271.8 214.2 1272 215.5C1272.1 216.8 1272.2 218.2 1272.4 219.5C1272.6 220.8 1272.7 222.1 1272.9 223.5C1273.1 224.8 1273.3 226.1 1273.5 227.5C1273.7 228.8 1273.9 230.1 1274.2 231.4C1274.4 232.8 1274.6 234.1 1274.8 235.4C1275 236.7 1275.3 238.1 1275.5 239.4C1275.7 240.7 1275.9 242.1 1276.1 243.4C1276.2 244.7 1276.4 246 1276.5 247.4C1276.7 248.7 1276.8 250 1276.9 251.3C1277 252.7 1277.1 254 1277.2 255.3C1277.3 256.7 1277.4 258 1277.6 259.3C1277.7 260.6 1277.8 262 1278 263.3C1278.2 264.6 1278.4 265.9 1278.6 267.3C1278.9 268.6 1279.2 269.9 1279.5 271.3C1279.9 272.6 1280.3 273.9 1280.7 275.2C1281.2 276.6 1281.7 277.9 1282.3 279.2C1282.9 280.5 1283.5 281.9 1284.2 283.2C1284.9 284.5 1285.6 285.9 1286.5 287.2C1287.3 288.5 1288.1 289.8 1289 291.2C1289.9 292.5 1290.9 293.8 1291.9 295.1C1292.9 296.5 1293.9 297.8 1295 299.1C1296.1 300.5 1297.2 301.8 1298.4 303.1C1299.5 304.4 1300.7 305.8 1301.8 307.1C1303 308.4 1304.1 309.7 1305.3 311.1C1306.4 312.4 1307.5 313.7 1308.6 315.1C1309.7 316.4 1310.8 317.7 1311.9 319C1313 320.4 1314 321.7 1315 323C1316 324.3 1316.9 325.7 1317.8 327C1318.7 328.3 1319.6 329.7 1320.4 331C1321.2 332.3 1322 333.6 1322.7 335C1323.4 336.3 1324 337.6 1324.6 338.9C1325.2 340.3 1325.7 341.6 1326.1 342.9C1326.6 344.3 1326.9 345.6 1327.2 346.9C1327.5 348.2 1327.7 349.6 1327.8 350.9C1328 352.2 1328 353.5 1328 354.9C1328 356.2 1327.9 357.5 1327.7 358.9C1327.6 360.2 1327.3 361.5 1327 362.8C1326.7 364.2 1326.3 365.5 1325.8 366.8C1325.3 368.1 1324.8 369.5 1324.2 370.8C1323.6 372.1 1322.9 373.5 1322.1 374.8C1321.4 376.1 1320.6 377.4 1319.8 378.8C1318.9 380.1 1318 381.4 1317 382.7C1316.1 384.1 1315.1 385.4 1314.1 386.7C1313 388.1 1311.9 389.4 1310.8 390.7C1309.7 392 1308.5 393.4 1307.3 394.7C1306.1 396 1304.9 397.4 1303.6 398.7C1302.3 400 1301 401.3 1299.6 402.7C1298.3 404 1296.9 405.3 1295.5 406.6C1294.1 408 1292.7 409.3 1291.3 410.6C1289.9 412 1288.5 413.3 1287.1 414.6C1285.7 415.9 1284.3 417.3 1282.9 418.6C1281.5 419.9 1280.2 421.2 1278.9 422.6C1277.6 423.9 1276.3 425.2 1275.1 426.6C1273.8 427.9 1272.7 429.2 1271.6 430.5C1270.4 431.9 1269.4 433.2 1268.4 434.5C1267.4 435.8 1266.5 437.2 1265.6 438.5C1264.8 439.8 1264 441.2 1263.3 442.5C1262.6 443.8 1261.9 445.1 1261.4 446.5C1260.8 447.8 1260.3 449.1 1259.8 450.4C1259.4 451.8 1259 453.1 1258.6 454.4C1258.3 455.8 1258 457.1 1257.7 458.4C1257.5 459.7 1257.3 461.1 1257.1 462.4C1256.9 463.7 1256.7 465 1256.6 466.4C1256.4 467.7 1256.3 469 1256.2 470.4C1256.1 471.7 1256 473 1256 474.3C1255.9 475.7 1255.8 477 1255.8 478.3C1255.7 479.6 1255.7 481 1255.6 482.3L1255 482.3C1254.9 481 1254.9 479.6 1254.8 478.3C1254.8 477 1254.7 475.7 1254.6 474.3C1254.6 473 1254.5 471.7 1254.4 470.4C1254.3 469 1254.2 467.7 1254 466.4C1253.9 465 1253.7 463.7 1253.5 462.4C1253.3 461.1 1253.1 459.7 1252.9 458.4C1252.6 457.1 1252.3 455.8 1252 454.4C1251.6 453.1 1251.2 451.8 1250.8 450.4C1250.3 449.1 1249.8 447.8 1249.2 446.5C1248.7 445.1 1248 443.8 1247.3 442.5C1246.6 441.2 1245.8 439.8 1245 438.5C1244.1 437.2 1243.2 435.8 1242.2 434.5C1241.2 433.2 1240.2 431.9 1239 430.5C1237.9 429.2 1236.8 427.9 1235.5 426.6C1234.3 425.2 1233 423.9 1231.7 422.6C1230.4 421.2 1229.1 419.9 1227.7 418.6C1226.3 417.3 1224.9 415.9 1223.5 414.6C1222.1 413.3 1220.7 412 1219.3 410.6C1217.9 409.3 1216.5 408 1215.1 406.6C1213.7 405.3 1212.3 404 1211 402.7C1209.6 401.3 1208.3 400 1207 398.7C1205.7 397.4 1204.5 396 1203.3 394.7C1202.1 393.4 1200.9 392 1199.8 390.7C1198.7 389.4 1197.6 388.1 1196.5 386.7C1195.5 385.4 1194.5 384.1 1193.6 382.7C1192.6 381.4 1191.7 380.1 1190.8 378.8C1190 377.4 1189.2 376.1 1188.5 374.8C1187.7 373.5 1187 372.1 1186.4 370.8C1185.8 369.5 1185.3 368.1 1184.8 366.8C1184.3 365.5 1183.9 364.2 1183.6 362.8C1183.3 361.5 1183 360.2 1182.9 358.9C1182.7 357.5 1182.6 356.2 1182.6 354.9C1182.6 353.5 1182.6 352.2 1182.8 350.9C1182.9 349.6 1183.1 348.2 1183.4 346.9C1183.7 345.6 1184 344.3 1184.5 342.9C1184.9 341.6 1185.4 340.3 1186 338.9C1186.6 337.6 1187.2 336.3 1187.9 335C1188.6 333.6 1189.4 332.3 1190.2 331C1191 329.7 1191.9 328.3 1192.8 327C1193.7 325.7 1194.6 324.3 1195.6 323C1196.6 321.7 1197.6 320.4 1198.7 319C1199.8 317.7 1200.9 316.4 1202 315.1C1203.1 313.7 1204.2 312.4 1205.3 311.1C1206.5 309.7 1207.6 308.4 1208.8 307.1C1209.9 305.8 1211.1 304.4 1212.2 303.1C1213.4 301.8 1214.5 300.5 1215.6 299.1C1216.7 297.8 1217.7 296.5 1218.7 295.1C1219.7 293.8 1220.7 292.5 1221.6 291.2C1222.5 289.8 1223.3 288.5 1224.1 287.2C1225 285.9 1225.7 284.5 1226.4 283.2C1227.1 281.9 1227.7 280.5 1228.3 279.2C1228.9 277.9 1229.4 276.6 1229.9 275.2C1230.3 273.9 1230.7 272.6 1231.1 271.3C1231.4 269.9 1231.7 268.6 1232 267.3C1232.2 265.9 1232.4 264.6 1232.6 263.3C1232.8 262 1232.9 260.6 1233 259.3C1233.2 258 1233.3 256.7 1233.4 255.3C1233.5 254 1233.6 252.7 1233.7 251.3C1233.8 250 1233.9 248.7 1234.1 247.4C1234.2 246 1234.4 244.7 1234.5 243.4C1234.7 242.1 1234.9 240.7 1235.1 239.4C1235.3 238.1 1235.6 236.7 1235.8 235.4C1236 234.1 1236.2 232.8 1236.4 231.4C1236.7 230.1 1236.9 228.8 1237.1 227.5C1237.3 226.1 1237.5 224.8 1237.7 223.5C1237.9 222.1 1238 220.8 1238.2 219.5C1238.4 218.2 1238.5 216.8 1238.6 215.5C1238.8 214.2 1238.9 212.8 1239 211.5C1239.2 210.2 1239.3 208.9 1239.4 207.5C1239.6 206.2 1239.8 204.9 1240 203.6C1240.2 202.2 1240.4 200.9 1240.6 199.6C1240.9 198.2 1241.2 196.9 1241.5 195.6C1241.8 194.3 1242.1 192.9 1242.5 191.6C1242.9 190.3 1243.3 189 1243.7 187.6C1244.2 186.3 1244.6 185 1245.1 183.6C1245.6 182.3 1246.1 181 1246.6 179.7C1247.1 178.3 1247.6 177 1248.1 175.7C1248.5 174.4 1249 173 1249.4 171.7C1249.9 170.4 1250.3 169 1250.6 167.7C1251 166.4 1251.3 165.1 1251.7 163.7C1252 162.4 1252.2 161.1 1252.5 159.8C1252.7 158.4 1253 157.1 1253.2 155.8C1253.4 154.4 1253.5 153.1 1253.7 151.8C1253.8 150.5 1254 149.1 1254.1 147.8C1254.2 146.5 1254.3 145.2 1254.4 143.8C1254.4 142.5 1254.5 141.2 1254.6 139.8C1254.6 138.5 1254.7 137.2 1254.7 135.9C1254.8 134.5 1254.8 133.2 1254.9 131.9C1254.9 130.6 1254.9 129.2 1255 127.9Z"/>
<path fill="#619CFF" d="M1464 202.7L1464.6 202.7C1464.7 204 1464.7 205.4 1464.8 206.7C1464.8 208 1464.9 209.4 1465 210.7C1465 212.1 1465.1 213.4 1465.3 214.7C1465.4 216.1 1465.5 217.4 1465.7 218.7C1465.9 220.1 1466.2 221.4 1466.4 222.8C1466.7 224.1 1467 225.4 1467.4 226.8C1467.8 228.1 1468.2 229.4 1468.7 230.8C1469.2 232.1 1469.8 233.4 1470.4 234.8C1471 236.1 1471.6 237.5 1472.2 238.8C1472.8 240.1 1473.4 241.5 1473.9 242.8C1474.4 244.1 1474.9 245.5 1475.2 246.8C1475.6 248.1 1475.8 249.5 1476 250.8C1476.1 252.2 1476.1 253.5 1476.1 254.8C1476 256.2 1475.8 257.5 1475.5 258.8C1475.2 260.2 1474.7 261.5 1474.2 262.9C1473.8 264.2 1473.2 265.5 1472.7 266.9C1472.2 268.2 1471.7 269.5 1471.2 270.9C1470.8 272.2 1470.3 273.5 1470 274.9C1469.6 276.2 1469.3 277.6 1469.1 278.9C1468.8 280.2 1468.7 281.6 1468.5 282.9C1468.4 284.2 1468.4 285.6 1468.4 286.9C1468.4 288.3 1468.5 289.6 1468.7 290.9C1469 292.3 1469.3 293.6 1469.8 294.9C1470.3 296.3 1470.9 297.6 1471.7 298.9C1472.5 300.3 1473.4 301.6 1474.5 303C1475.6 304.3 1476.8 305.6 1478.1 307C1479.4 308.3 1480.8 309.6 1482.4 311C1483.9 312.3 1485.6 313.6 1487.2 315C1488.9 316.3 1490.7 317.7 1492.4 319C1494.2 320.3 1496 321.7 1497.8 323C1499.5 324.3 1501.3 325.7 1503.1 327C1504.8 328.4 1506.5 329.7 1508.3 331C1510 332.4 1511.7 333.7 1513.4 335C1515.1 336.4 1516.8 337.7 1518.5 339C1520.3 340.4 1522 341.7 1523.9 343.1C1525.7 344.4 1527.5 345.7 1529.4 347.1C1531.3 348.4 1533.2 349.7 1535 351.1C1536.9 352.4 1538.8 353.8 1540.6 355.1C1542.4 356.4 1544.2 357.8 1545.9 359.1C1547.5 360.4 1549.1 361.8 1550.6 363.1C1552.1 364.4 1553.4 365.8 1554.6 367.1C1555.7 368.5 1556.7 369.8 1557.4 371.1C1558.1 372.5 1558.5 373.8 1558.5 375.1C1558.5 376.5 1558.2 377.8 1557.5 379.1C1556.8 380.5 1555.6 381.8 1554.2 383.2C1552.7 384.5 1551 385.8 1549.3 387.2C1547.5 388.5 1545.7 389.8 1544 391.2C1542.3 392.5 1540.6 393.9 1539 395.2C1537.4 396.5 1535.8 397.9 1534.4 399.2C1532.9 400.5 1531.5 401.9 1530.1 403.2C1528.8 404.5 1527.5 405.9 1526.2 407.2C1524.9 408.6 1523.7 409.9 1522.5 411.2C1521.3 412.6 1520.1 413.9 1518.8 415.2C1517.6 416.6 1516.4 417.9 1515.2 419.3C1514 420.6 1512.7 421.9 1511.4 423.3C1510.2 424.6 1508.9 425.9 1507.6 427.3C1506.3 428.6 1504.9 429.9 1503.6 431.3C1502.3 432.6 1501 434 1499.8 435.3C1498.6 436.6 1497.4 438 1496.3 439.3C1495.2 440.6 1494.2 442 1493.3 443.3C1492.4 444.7 1491.6 446 1490.9 447.3C1490.1 448.7 1489.5 450 1489 451.3C1488.5 452.7 1488.1 454 1487.8 455.3C1487.5 456.7 1487.3 458 1487.1 459.4C1486.9 460.7 1486.7 462 1486.6 463.4C1486.4 464.7 1486.3 466 1486.2 467.4C1486 468.7 1485.8 470 1485.6 471.4C1485.4 472.7 1485.1 474.1 1484.7 475.4C1484.4 476.7 1484 478.1 1483.5 479.4C1483 480.7 1482.4 482.1 1481.8 483.4C1481.2 484.8 1480.5 486.1 1479.9 487.4C1479.2 488.8 1478.6 490.1 1477.9 491.4C1477.2 492.8 1476.6 494.1 1476 495.4C1475.4 496.8 1474.8 498.1 1474.2 499.5C1473.6 500.8 1473.1 502.1 1472.6 503.5C1472.1 504.8 1471.7 506.1 1471.2 507.5C1470.8 508.8 1470.4 510.2 1470.1 511.5C1469.7 512.8 1469.4 514.2 1469 515.5C1468.7 516.8 1468.4 518.2 1468.2 519.5C1467.9 520.8 1467.7 522.2 1467.4 523.5C1467.2 524.9 1467 526.2 1466.8 527.5C1466.6 528.9 1466.4 530.2 1466.3 531.5C1466.1 532.9 1466 534.2 1465.8 535.5C1465.7 536.9 1465.6 538.2 1465.5 539.6C1465.4 540.9 1465.3 542.2 1465.2 543.6C1465.1 544.9 1465 546.2 1465 547.6C1464.9 548.9 1464.8 550.3 1464.8 551.6C1464.7 552.9 1464.7 554.3 1464.7 555.6L1463.9 555.6C1463.9 554.3 1463.9 552.9 1463.8 551.6C1463.8 550.3 1463.7 548.9 1463.6 547.6C1463.6 546.2 1463.5 544.9 1463.4 543.6C1463.3 542.2 1463.2 540.9 1463.1 539.6C1463 538.2 1462.9 536.9 1462.8 535.5C1462.6 534.2 1462.5 532.9 1462.3 531.5C1462.2 530.2 1462 528.9 1461.8 527.5C1461.6 526.2 1461.4 524.9 1461.2 523.5C1460.9 522.2 1460.7 520.8 1460.4 519.5C1460.2 518.2 1459.9 516.8 1459.6 515.5C1459.2 514.2 1458.9 512.8 1458.5 511.5C1458.2 510.2 1457.8 508.8 1457.4 507.5C1456.9 506.1 1456.5 504.8 1456 503.5C1455.5 502.1 1455 500.8 1454.4 499.5C1453.8 498.1 1453.2 496.8 1452.6 495.4C1452 494.1 1451.4 492.8 1450.7 491.4C1450 490.1 1449.4 488.8 1448.7 487.4C1448.1 486.1 1447.4 484.8 1446.8 483.4C1446.2 482.1 1445.6 480.7 1445.1 479.4C1444.6 478.1 1444.2 476.7 1443.9 475.4C1443.5 474.1 1443.2 472.7 1443 471.4C1442.8 470 1442.6 468.7 1442.4 467.4C1442.3 466 1442.2 464.7 1442 463.4C1441.9 462 1441.7 460.7 1441.5 459.4C1441.3 458 1441.1 456.7 1440.8 455.3C1440.5 454 1440.1 452.7 1439.6 451.3C1439.1 450 1438.5 448.7 1437.7 447.3C1437 446 1436.2 444.7 1435.3 443.3C1434.4 442 1433.4 440.6 1432.3 439.3C1431.2 438 1430 436.6 1428.8 435.3C1427.6 434 1426.3 432.6 1425 431.3C1423.7 429.9 1422.3 428.6 1421 427.3C1419.7 425.9 1418.4 424.6 1417.2 423.3C1415.9 421.9 1414.6 420.6 1413.4 419.3C1412.2 417.9 1411 416.6 1409.8 415.2C1408.5 413.9 1407.3 412.6 1406.1 411.2C1404.9 409.9 1403.7 408.6 1402.4 407.2C1401.1 405.9 1399.8 404.5 1398.5 403.2C1397.1 401.9 1395.7 400.5 1394.2 399.2C1392.8 397.9 1391.2 396.5 1389.6 395.2C1388 393.9 1386.3 392.5 1384.6 391.2C1382.9 389.8 1381.1 388.5 1379.3 387.2C1377.6 385.8 1375.9 384.5 1374.4 383.2C1373 381.8 1371.8 380.5 1371.1 379.1C1370.4 377.8 1370.1 376.5 1370.1 375.1C1370.1 373.8 1370.5 372.5 1371.2 371.1C1371.9 369.8 1372.9 368.5 1374 367.1C1375.2 365.8 1376.5 364.4 1378 363.1C1379.5 361.8 1381.1 360.4 1382.7 359.1C1384.4 357.8 1386.2 356.4 1388 355.1C1389.8 353.8 1391.7 352.4 1393.6 351.1C1395.4 349.7 1397.3 348.4 1399.2 347.1C1401.1 345.7 1402.9 344.4 1404.7 343.1C1406.6 341.7 1408.3 340.4 1410.1 339C1411.8 337.7 1413.5 336.4 1415.2 335C1416.9 333.7 1418.6 332.4 1420.3 331C1422.1 329.7 1423.8 328.4 1425.5 327C1427.3 325.7 1429.1 324.3 1430.8 323C1432.6 321.7 1434.4 320.3 1436.2 319C1437.9 317.7 1439.7 316.3 1441.4 315C1443 313.6 1444.7 312.3 1446.2 311C1447.8 309.6 1449.2 308.3 1450.5 307C1451.8 305.6 1453 304.3 1454.1 303C1455.2 301.6 1456.1 300.3 1456.9 298.9C1457.7 297.6 1458.3 296.3 1458.8 294.9C1459.3 293.6 1459.6 292.3 1459.9 290.9C1460.1 289.6 1460.2 288.3 1460.2 286.9C1460.2 285.6 1460.2 284.2 1460.1 282.9C1459.9 281.6 1459.8 280.2 1459.5 278.9C1459.3 277.6 1459 276.2 1458.6 274.9C1458.3 273.5 1457.8 272.2 1457.4 270.9C1456.9 269.5 1456.4 268.2 1455.9 266.9C1455.4 265.5 1454.8 264.2 1454.4 262.9C1453.9 261.5 1453.4 260.2 1453.1 258.8C1452.8 257.5 1452.6 256.2 1452.5 254.8C1452.5 253.5 1452.5 252.2 1452.6 250.8C1452.8 249.5 1453 248.1 1453.4 246.8C1453.7 245.5 1454.2 244.1 1454.7 242.8C1455.2 241.5 1455.8 240.1 1456.4 238.8C1457 237.5 1457.6 236.1 1458.2 234.8C1458.8 233.4 1459.4 232.1 1459.9 230.8C1460.4 229.4 1460.8 228.1 1461.2 226.8C1461.6 225.4 1461.9 224.1 1462.2 222.8C1462.4 221.4 1462.7 220.1 1462.9 218.7C1463.1 217.4 1463.2 216.1 1463.3 214.7C1463.5 213.4 1463.6 212.1 1463.6 210.7C1463.7 209.4 1463.8 208 1463.8 206.7C1463.9 205.4 1463.9 204 1464 202.7Z"/>
<path fill="#F8766D" d="M284.7 778.7L285.3 778.7C285.4 780 285.4 781.4 285.4 782.7C285.5 784 285.5 785.4 285.6 786.7C285.6 788 285.7 789.3 285.8 790.7C285.9 792 286 793.3 286.2 794.7C286.3 796 286.5 797.3 286.7 798.7C286.9 800 287.2 801.3 287.5 802.7C287.8 804 288.1 805.3 288.6 806.7C289 808 289.5 809.3 290 810.6C290.5 812 291.1 813.3 291.7 814.6C292.4 816 293 817.3 293.6 818.6C294.2 820 294.8 821.3 295.3 822.6C295.7 824 296.2 825.3 296.5 826.6C296.8 828 297.1 829.3 297.3 830.6C297.4 831.9 297.6 833.3 297.7 834.6C297.8 835.9 297.8 837.3 297.9 838.6C297.9 839.9 298 841.3 298.1 842.6C298.2 843.9 298.4 845.3 298.6 846.6C298.8 847.9 299 849.2 299.4 850.6C299.7 851.9 300.1 853.2 300.5 854.6C300.9 855.9 301.4 857.2 301.9 858.6C302.4 859.9 303 861.2 303.6 862.6C304.2 863.9 304.8 865.2 305.5 866.6C306.2 867.9 306.9 869.2 307.7 870.5C308.4 871.9 309.2 873.2 310 874.5C310.9 875.9 311.7 877.2 312.6 878.5C313.4 879.9 314.3 881.2 315.2 882.5C316.1 883.9 317 885.2 317.9 886.5C318.8 887.9 319.6 889.2 320.5 890.5C321.4 891.8 322.3 893.2 323.3 894.5C324.2 895.8 325.1 897.2 326.1 898.5C327.1 899.8 328.1 901.2 329.1 902.5C330.1 903.8 331.2 905.2 332.4 906.5C333.5 907.8 334.7 909.1 336 910.5C337.3 911.8 338.6 913.1 340 914.5C341.4 915.8 342.9 917.1 344.4 918.5C345.9 919.8 347.4 921.1 349 922.5C350.6 923.8 352.2 925.1 353.8 926.5C355.4 927.8 357.1 929.1 358.7 930.4C360.3 931.8 361.8 933.1 363.4 934.4C364.9 935.8 366.3 937.1 367.7 938.4C369.1 939.8 370.4 941.1 371.6 942.4C372.8 943.8 373.9 945.1 374.9 946.4C375.8 947.8 376.7 949.1 377.4 950.4C378.1 951.7 378.6 953.1 379 954.4C379.4 955.7 379.6 957.1 379.7 958.4C379.7 959.7 379.6 961.1 379.1 962.4C378.7 963.7 378.1 965.1 377.2 966.4C376.3 967.7 375.1 969 373.6 970.4C372.1 971.7 370.3 973 368.3 974.4C366.4 975.7 364.2 977 362 978.4C359.8 979.7 357.5 981 355.2 982.4C353 983.7 350.7 985 348.6 986.4C346.4 987.7 344.4 989 342.4 990.3C340.5 991.7 338.6 993 336.9 994.3C335.3 995.7 333.7 997 332.3 998.3C330.9 999.7 329.6 1001 328.4 1002.3C327.2 1003.7 326.1 1005 325 1006.3C323.9 1007.7 322.9 1009 322 1010.3C321 1011.6 320.1 1013 319.1 1014.3C318.2 1015.6 317.2 1017 316.3 1018.3C315.3 1019.6 314.3 1021 313.3 1022.3C312.2 1023.6 311.1 1025 310.1 1026.3C309 1027.6 307.9 1028.9 306.9 1030.3C305.9 1031.6 304.9 1032.9 303.9 1034.3C303 1035.6 302.1 1036.9 301.2 1038.3C300.4 1039.6 299.6 1040.9 298.8 1042.3C298.1 1043.6 297.4 1044.9 296.8 1046.3C296.2 1047.6 295.6 1048.9 295.1 1050.2C294.6 1051.6 294.1 1052.9 293.7 1054.2C293.3 1055.6 292.9 1056.9 292.6 1058.2C292.3 1059.6 292 1060.9 291.8 1062.2C291.6 1063.6 291.4 1064.9 291.2 1066.2C291.1 1067.6 290.9 1068.9 290.9 1070.2C290.8 1071.5 290.7 1072.9 290.7 1074.2C290.7 1075.5 290.8 1076.9 290.9 1078.2C290.9 1079.5 291 1080.9 291.1 1082.2C291.2 1083.5 291.2 1084.9 291.2 1086.2C291.2 1087.5 291.2 1088.8 291 1090.2C290.9 1091.5 290.7 1092.8 290.5 1094.2C290.3 1095.5 290 1096.8 289.7 1098.2C289.5 1099.5 289.2 1100.8 288.9 1102.2C288.6 1103.5 288.3 1104.8 288.1 1106.2C287.8 1107.5 287.6 1108.8 287.3 1110.1C287.1 1111.5 286.9 1112.8 286.8 1114.1C286.6 1115.5 286.5 1116.8 286.4 1118.1C286.2 1119.5 286.1 1120.8 286 1122.1C285.9 1123.5 285.9 1124.8 285.8 1126.1C285.7 1127.5 285.7 1128.8 285.6 1130.1C285.5 1131.4 285.5 1132.8 285.5 1134.1C285.4 1135.4 285.4 1136.8 285.4 1138.1L284.6 1138.1C284.6 1136.8 284.6 1135.4 284.5 1134.1C284.5 1132.8 284.5 1131.4 284.4 1130.1C284.3 1128.8 284.3 1127.5 284.2 1126.1C284.1 1124.8 284.1 1123.5 284 1122.1C283.9 1120.8 283.8 1119.5 283.6 1118.1C283.5 1116.8 283.4 1115.5 283.2 1114.1C283.1 1112.8 282.9 1111.5 282.7 1110.1C282.4 1108.8 282.2 1107.5 281.9 1106.2C281.7 1104.8 281.4 1103.5 281.1 1102.2C280.8 1100.8 280.5 1099.5 280.3 1098.2C280 1096.8 279.7 1095.5 279.5 1094.2C279.3 1092.8 279.1 1091.5 279 1090.2C278.8 1088.8 278.8 1087.5 278.8 1086.2C278.8 1084.9 278.8 1083.5 278.9 1082.2C279 1080.9 279.1 1079.5 279.1 1078.2C279.2 1076.9 279.3 1075.5 279.3 1074.2C279.3 1072.9 279.2 1071.5 279.1 1070.2C279.1 1068.9 278.9 1067.6 278.8 1066.2C278.6 1064.9 278.4 1063.6 278.2 1062.2C278 1060.9 277.7 1059.6 277.4 1058.2C277.1 1056.9 276.7 1055.6 276.3 1054.2C275.9 1052.9 275.4 1051.6 274.9 1050.2C274.4 1048.9 273.8 1047.6 273.2 1046.3C272.6 1044.9 271.9 1043.6 271.2 1042.3C270.4 1040.9 269.6 1039.6 268.8 1038.3C267.9 1036.9 267 1035.6 266.1 1034.3C265.1 1032.9 264.1 1031.6 263.1 1030.3C262.1 1028.9 261 1027.6 259.9 1026.3C258.9 1025 257.8 1023.6 256.7 1022.3C255.7 1021 254.7 1019.6 253.7 1018.3C252.8 1017 251.8 1015.6 250.9 1014.3C249.9 1013 249 1011.6 248 1010.3C247.1 1009 246.1 1007.7 245 1006.3C243.9 1005 242.8 1003.7 241.6 1002.3C240.4 1001 239.1 999.7 237.7 998.3C236.3 997 234.7 995.7 233.1 994.3C231.4 993 229.5 991.7 227.6 990.3C225.6 989 223.6 987.7 221.4 986.4C219.3 985 217 983.7 214.8 982.4C212.5 981 210.2 979.7 208 978.4C205.8 977 203.6 975.7 201.7 974.4C199.7 973 197.9 971.7 196.4 970.4C194.9 969 193.7 967.7 192.8 966.4C191.9 965.1 191.3 963.7 190.9 962.4C190.4 961.1 190.3 959.7 190.3 958.4C190.4 957.1 190.6 955.7 191 954.4C191.4 953.1 191.9 951.7 192.6 950.4C193.3 949.1 194.2 947.8 195.1 946.4C196.1 945.1 197.2 943.8 198.4 942.4C199.6 941.1 200.9 939.8 202.3 938.4C203.7 937.1 205.1 935.8 206.6 934.4C208.2 933.1 209.7 931.8 211.3 930.4C212.9 929.1 214.6 927.8 216.2 926.5C217.8 925.1 219.4 923.8 221 922.5C222.6 921.1 224.1 919.8 225.6 918.5C227.1 917.1 228.6 915.8 230 914.5C231.4 913.1 232.7 911.8 234 910.5C235.3 909.1 236.5 907.8 237.6 906.5C238.8 905.2 239.9 903.8 240.9 902.5C241.9 901.2 242.9 899.8 243.9 898.5C244.9 897.2 245.8 895.8 246.7 894.5C247.7 893.2 248.6 891.8 249.5 890.5C250.4 889.2 251.2 887.9 252.1 886.5C253 885.2 253.9 883.9 254.8 882.5C255.7 881.2 256.6 879.9 257.4 878.5C258.3 877.2 259.1 875.9 260 874.5C260.8 873.2 261.6 871.9 262.3 870.5C263.1 869.2 263.8 867.9 264.5 866.6C265.2 865.2 265.8 863.9 266.4 862.6C267 861.2 267.6 859.9 268.1 858.6C268.6 857.2 269.1 855.9 269.5 854.6C269.9 853.2 270.3 851.9 270.6 850.6C271 849.2 271.2 847.9 271.4 846.6C271.6 845.3 271.8 843.9 271.9 842.6C272 841.3 272.1 839.9 272.1 838.6C272.2 837.3 272.2 835.9 272.3 834.6C272.4 833.3 272.6 831.9 272.7 830.6C272.9 829.3 273.2 828 273.5 826.6C273.8 825.3 274.3 824 274.7 822.6C275.2 821.3 275.8 820 276.4 818.6C277 817.3 277.6 816 278.3 814.6C278.9 813.3 279.5 812 280 810.6C280.5 809.3 281 808 281.4 806.7C281.9 805.3 282.2 804 282.5 802.7C282.8 801.3 283.1 800 283.3 798.7C283.5 797.3 283.7 796 283.8 794.7C284 793.3 284.1 792 284.2 790.7C284.3 789.3 284.4 788 284.4 786.7C284.5 785.4 284.5 784 284.6 782.7C284.6 781.4 284.6 780 284.7 778.7Z"/>
<path fill="#00BA38" d="M493.7 730.7L494.3 730.7C494.4 732 494.4 733.4 494.4 734.7C494.4 736.1 494.5 737.4 494.5 738.7C494.5 740.1 494.6 741.4 494.6 742.7C494.7 744.1 494.8 745.4 494.8 746.8C494.9 748.1 495 749.4 495.1 750.8C495.2 752.1 495.3 753.5 495.5 754.8C495.6 756.1 495.8 757.5 496 758.8C496.2 760.2 496.4 761.5 496.6 762.8C496.9 764.2 497.2 765.5 497.5 766.8C497.8 768.2 498.2 769.5 498.6 770.9C499 772.2 499.5 773.5 500 774.9C500.5 776.2 501 777.6 501.6 778.9C502.1 780.2 502.7 781.6 503.4 782.9C504 784.2 504.6 785.6 505.3 786.9C505.9 788.3 506.6 789.6 507.2 790.9C507.9 792.3 508.5 793.6 509.2 795C509.8 796.3 510.4 797.6 511 799C511.6 800.3 512.1 801.7 512.6 803C513.2 804.3 513.6 805.7 514.1 807C514.5 808.3 514.9 809.7 515.2 811C515.5 812.4 515.8 813.7 516.1 815C516.3 816.4 516.5 817.7 516.7 819.1C516.9 820.4 517.1 821.7 517.2 823.1C517.3 824.4 517.4 825.7 517.6 827.1C517.7 828.4 517.8 829.8 517.9 831.1C518 832.4 518.1 833.8 518.2 835.1C518.3 836.5 518.5 837.8 518.6 839.1C518.8 840.5 519 841.8 519.2 843.2C519.5 844.5 519.8 845.8 520.1 847.2C520.4 848.5 520.7 849.8 521.1 851.2C521.4 852.5 521.8 853.9 522.2 855.2C522.7 856.5 523.1 857.9 523.6 859.2C524.1 860.6 524.6 861.9 525.1 863.2C525.7 864.6 526.2 865.9 526.8 867.2C527.4 868.6 528 869.9 528.7 871.3C529.3 872.6 529.9 873.9 530.6 875.3C531.3 876.6 532 878 532.7 879.3C533.4 880.6 534.1 882 534.8 883.3C535.5 884.7 536.2 886 537 887.3C537.7 888.7 538.5 890 539.2 891.3C540 892.7 540.8 894 541.6 895.4C542.4 896.7 543.2 898 544 899.4C544.8 900.7 545.6 902.1 546.5 903.4C547.3 904.7 548.1 906.1 549 907.4C549.8 908.7 550.7 910.1 551.6 911.4C552.5 912.8 553.3 914.1 554.2 915.4C555.1 916.8 556 918.1 556.9 919.5C557.9 920.8 558.8 922.1 559.7 923.5C560.5 924.8 561.4 926.1 562.3 927.5C563.2 928.8 564 930.2 564.8 931.5C565.6 932.8 566.4 934.2 567.1 935.5C567.8 936.9 568.5 938.2 569.1 939.5C569.7 940.9 570.3 942.2 570.7 943.6C571.2 944.9 571.6 946.2 571.9 947.6C572.2 948.9 572.4 950.2 572.5 951.6C572.6 952.9 572.6 954.3 572.4 955.6C572.3 956.9 572 958.3 571.7 959.6C571.3 961 570.8 962.3 570.2 963.6C569.6 965 568.9 966.3 568 967.6C567.2 969 566.3 970.3 565.3 971.7C564.3 973 563.2 974.3 562 975.7C560.9 977 559.6 978.4 558.4 979.7C557.1 981 555.8 982.4 554.5 983.7C553.1 985.1 551.8 986.4 550.4 987.7C549 989.1 547.6 990.4 546.3 991.7C544.9 993.1 543.5 994.4 542.1 995.8C540.8 997.1 539.4 998.4 538 999.8C536.7 1001.1 535.3 1002.5 534 1003.8C532.6 1005.1 531.3 1006.5 530 1007.8C528.6 1009.1 527.3 1010.5 526 1011.8C524.8 1013.2 523.5 1014.5 522.2 1015.8C521 1017.2 519.8 1018.5 518.6 1019.9C517.4 1021.2 516.2 1022.5 515.1 1023.9C514 1025.2 512.9 1026.6 511.9 1027.9C510.9 1029.2 509.9 1030.6 508.9 1031.9C508 1033.2 507.1 1034.6 506.2 1035.9C505.4 1037.3 504.6 1038.6 503.9 1039.9C503.1 1041.3 502.4 1042.6 501.8 1044C501.2 1045.3 500.6 1046.6 500.1 1048C499.5 1049.3 499 1050.6 498.6 1052C498.2 1053.3 497.8 1054.7 497.4 1056C497.1 1057.3 496.8 1058.7 496.5 1060C496.2 1061.4 496 1062.7 495.8 1064C495.5 1065.4 495.4 1066.7 495.2 1068.1C495.1 1069.4 494.9 1070.7 494.8 1072.1C494.7 1073.4 494.6 1074.7 494.5 1076.1C494.5 1077.4 494.4 1078.8 494.3 1080.1L493.7 1080.1C493.6 1078.8 493.5 1077.4 493.5 1076.1C493.4 1074.7 493.3 1073.4 493.2 1072.1C493.1 1070.7 492.9 1069.4 492.8 1068.1C492.6 1066.7 492.5 1065.4 492.2 1064C492 1062.7 491.8 1061.4 491.5 1060C491.2 1058.7 490.9 1057.3 490.6 1056C490.2 1054.7 489.8 1053.3 489.4 1052C489 1050.6 488.5 1049.3 487.9 1048C487.4 1046.6 486.8 1045.3 486.2 1044C485.6 1042.6 484.9 1041.3 484.1 1039.9C483.4 1038.6 482.6 1037.3 481.8 1035.9C480.9 1034.6 480 1033.2 479.1 1031.9C478.1 1030.6 477.1 1029.2 476.1 1027.9C475.1 1026.6 474 1025.2 472.9 1023.9C471.8 1022.5 470.6 1021.2 469.4 1019.9C468.2 1018.5 467 1017.2 465.8 1015.8C464.5 1014.5 463.2 1013.2 462 1011.8C460.7 1010.5 459.4 1009.1 458 1007.8C456.7 1006.5 455.4 1005.1 454 1003.8C452.7 1002.5 451.3 1001.1 450 999.8C448.6 998.4 447.2 997.1 445.9 995.8C444.5 994.4 443.1 993.1 441.7 991.7C440.4 990.4 439 989.1 437.6 987.7C436.2 986.4 434.9 985.1 433.5 983.7C432.2 982.4 430.9 981 429.6 979.7C428.4 978.4 427.1 977 426 975.7C424.8 974.3 423.7 973 422.7 971.7C421.7 970.3 420.8 969 420 967.6C419.1 966.3 418.4 965 417.8 963.6C417.2 962.3 416.7 961 416.3 959.6C416 958.3 415.7 956.9 415.6 955.6C415.4 954.3 415.4 952.9 415.5 951.6C415.6 950.2 415.8 948.9 416.1 947.6C416.4 946.2 416.8 944.9 417.3 943.6C417.7 942.2 418.3 940.9 418.9 939.5C419.5 938.2 420.2 936.9 420.9 935.5C421.6 934.2 422.4 932.8 423.2 931.5C424 930.2 424.8 928.8 425.7 927.5C426.6 926.1 427.5 924.8 428.3 923.5C429.2 922.1 430.1 920.8 431.1 919.5C432 918.1 432.9 916.8 433.8 915.4C434.7 914.1 435.5 912.8 436.4 911.4C437.3 910.1 438.2 908.7 439 907.4C439.9 906.1 440.7 904.7 441.5 903.4C442.4 902.1 443.2 900.7 444 899.4C444.8 898 445.6 896.7 446.4 895.4C447.2 894 448 892.7 448.8 891.3C449.5 890 450.3 888.7 451 887.3C451.8 886 452.5 884.7 453.2 883.3C453.9 882 454.6 880.6 455.3 879.3C456 878 456.7 876.6 457.4 875.3C458.1 873.9 458.7 872.6 459.3 871.3C460 869.9 460.6 868.6 461.2 867.2C461.8 865.9 462.3 864.6 462.9 863.2C463.4 861.9 463.9 860.6 464.4 859.2C464.9 857.9 465.3 856.5 465.8 855.2C466.2 853.9 466.6 852.5 466.9 851.2C467.3 849.8 467.6 848.5 467.9 847.2C468.2 845.8 468.5 844.5 468.8 843.2C469 841.8 469.2 840.5 469.4 839.1C469.5 837.8 469.7 836.5 469.8 835.1C469.9 833.8 470 832.4 470.1 831.1C470.2 829.8 470.3 828.4 470.4 827.1C470.6 825.7 470.7 824.4 470.8 823.1C470.9 821.7 471.1 820.4 471.3 819.1C471.5 817.7 471.7 816.4 471.9 815C472.2 813.7 472.5 812.4 472.8 811C473.1 809.7 473.5 808.3 473.9 807C474.4 805.7 474.8 804.3 475.4 803C475.9 801.7 476.4 800.3 477 799C477.6 797.6 478.2 796.3 478.8 795C479.5 793.6 480.1 792.3 480.8 790.9C481.4 789.6 482.1 788.3 482.7 786.9C483.4 785.6 484 784.2 484.6 782.9C485.3 781.6 485.9 780.2 486.4 778.9C487 777.6 487.5 776.2 488 774.9C488.5 773.5 489 772.2 489.4 770.9C489.8 769.5 490.2 768.2 490.5 766.8C490.8 765.5 491.1 764.2 491.4 762.8C491.6 761.5 491.8 760.2 492 758.8C492.2 757.5 492.4 756.1 492.5 754.8C492.7 753.5 492.8 752.1 492.9 750.8C493 749.4 493.1 748.1 493.2 746.8C493.2 745.4 493.3 744.1 493.4 742.7C493.4 741.4 493.5 740.1 493.5 738.7C493.5 737.4 493.6 736.1 493.6 734.7C493.6 733.4 493.6 732 493.7 730.7Z"/>
<path fill="#619CFF" d="M703.1 667.4L703.7 667.4C703.8 668.7 703.8 670.1 703.8 671.4C703.8 672.7 703.9 674.1 703.9 675.4C703.9 676.7 703.9 678.1 704 679.4C704 680.7 704 682.1 704.1 683.4C704.1 684.7 704.2 686.1 704.2 687.4C704.2 688.7 704.3 690.1 704.3 691.4C704.4 692.7 704.4 694.1 704.5 695.4C704.6 696.7 704.6 698 704.7 699.4C704.8 700.7 704.9 702 704.9 703.4C705 704.7 705.1 706 705.2 707.4C705.3 708.7 705.4 710 705.5 711.4C705.6 712.7 705.8 714 705.9 715.4C706 716.7 706.2 718 706.3 719.4C706.4 720.7 706.6 722 706.8 723.4C706.9 724.7 707.1 726 707.3 727.4C707.5 728.7 707.6 730 707.8 731.4C708 732.7 708.3 734 708.5 735.4C708.7 736.7 708.9 738 709.1 739.4C709.4 740.7 709.6 742 709.9 743.4C710.1 744.7 710.4 746 710.6 747.4C710.9 748.7 711.1 750 711.4 751.3C711.6 752.7 711.9 754 712.2 755.3C712.4 756.7 712.7 758 712.9 759.3C713.2 760.7 713.4 762 713.7 763.3C713.9 764.7 714.2 766 714.4 767.3C714.7 768.7 714.9 770 715.2 771.3C715.4 772.7 715.6 774 715.9 775.3C716.1 776.7 716.3 778 716.6 779.3C716.8 780.7 717 782 717.3 783.3C717.5 784.7 717.7 786 718 787.3C718.2 788.7 718.5 790 718.7 791.3C719 792.7 719.2 794 719.5 795.3C719.8 796.7 720.1 798 720.4 799.3C720.7 800.7 721 802 721.3 803.3C721.6 804.6 722 806 722.3 807.3C722.7 808.6 723.1 810 723.5 811.3C723.9 812.6 724.3 814 724.8 815.3C725.3 816.6 725.8 818 726.4 819.3C726.9 820.6 727.5 822 728.2 823.3C728.8 824.6 729.5 826 730.2 827.3C731 828.6 731.8 830 732.6 831.3C733.4 832.6 734.3 834 735.2 835.3C736 836.6 736.9 838 737.8 839.3C738.8 840.6 739.7 842 740.6 843.3C741.5 844.6 742.5 846 743.4 847.3C744.4 848.6 745.3 850 746.2 851.3C747.2 852.6 748.1 854 749 855.3C749.9 856.6 750.7 857.9 751.6 859.3C752.4 860.6 753.2 861.9 754 863.3C754.8 864.6 755.5 865.9 756.2 867.3C756.9 868.6 757.5 869.9 758.1 871.3C758.7 872.6 759.3 873.9 759.8 875.3C760.3 876.6 760.8 877.9 761.2 879.3C761.7 880.6 762.1 881.9 762.4 883.3C762.8 884.6 763.1 885.9 763.4 887.3C763.8 888.6 764 889.9 764.3 891.3C764.5 892.6 764.7 893.9 764.9 895.3C765.1 896.6 765.3 897.9 765.5 899.3C765.6 900.6 765.8 901.9 765.9 903.3C766 904.6 766.2 905.9 766.3 907.3C766.4 908.6 766.5 909.9 766.6 911.2C766.8 912.6 766.9 913.9 767 915.2C767.1 916.6 767.1 917.9 767.2 919.2C767.3 920.6 767.3 921.9 767.3 923.2C767.3 924.6 767.2 925.9 767.1 927.2C767 928.6 766.9 929.9 766.6 931.2C766.4 932.6 766.1 933.9 765.8 935.2C765.4 936.6 765 937.9 764.5 939.2C764 940.6 763.4 941.9 762.8 943.2C762.1 944.6 761.3 945.9 760.5 947.2C759.7 948.6 758.8 949.9 757.8 951.2C756.8 952.6 755.8 953.9 754.7 955.2C753.6 956.6 752.5 957.9 751.4 959.2C750.2 960.6 749.1 961.9 747.9 963.2C746.8 964.6 745.7 965.9 744.5 967.2C743.4 968.5 742.3 969.9 741.2 971.2C740.2 972.5 739.1 973.9 738.1 975.2C737.1 976.5 736.1 977.9 735.2 979.2C734.2 980.5 733.3 981.9 732.5 983.2C731.6 984.5 730.7 985.9 729.9 987.2C729.1 988.5 728.4 989.9 727.7 991.2C726.9 992.5 726.2 993.9 725.6 995.2C724.9 996.5 724.3 997.9 723.7 999.2C723.1 1000.5 722.5 1001.9 722 1003.2C721.4 1004.5 720.9 1005.9 720.5 1007.2C720 1008.5 719.5 1009.9 719.1 1011.2C718.7 1012.5 718.3 1013.9 717.9 1015.2C717.5 1016.5 717.2 1017.9 716.9 1019.2C716.5 1020.5 716.2 1021.8 715.9 1023.2C715.6 1024.5 715.4 1025.8 715.1 1027.2C714.9 1028.5 714.6 1029.8 714.4 1031.2C714.2 1032.5 714 1033.8 713.8 1035.2C713.6 1036.5 713.4 1037.8 713.2 1039.2C713.1 1040.5 712.9 1041.8 712.7 1043.2C712.6 1044.5 712.4 1045.8 712.2 1047.2C712.1 1048.5 711.9 1049.8 711.8 1051.2C711.6 1052.5 711.5 1053.8 711.3 1055.2C711.2 1056.5 711 1057.8 710.9 1059.2C710.8 1060.5 710.6 1061.8 710.5 1063.2C710.3 1064.5 710.2 1065.8 710.1 1067.2C709.9 1068.5 709.8 1069.8 709.6 1071.2C709.5 1072.5 709.4 1073.8 709.2 1075.1C709.1 1076.5 708.9 1077.8 708.8 1079.1C708.7 1080.5 708.5 1081.8 708.4 1083.1C708.2 1084.5 708.1 1085.8 708 1087.1C707.8 1088.5 707.7 1089.8 707.6 1091.1C707.4 1092.5 707.3 1093.8 707.2 1095.1C707 1096.5 706.9 1097.8 706.8 1099.1C706.7 1100.5 706.6 1101.8 706.4 1103.1C706.3 1104.5 706.2 1105.8 706.1 1107.1C706 1108.5 705.9 1109.8 705.8 1111.1C705.7 1112.5 705.6 1113.8 705.5 1115.1C705.4 1116.5 705.3 1117.8 705.2 1119.1C705.1 1120.5 705 1121.8 705 1123.1C704.9 1124.5 704.8 1125.8 704.7 1127.1C704.7 1128.4 704.6 1129.8 704.5 1131.1C704.5 1132.4 704.4 1133.8 704.3 1135.1C704.3 1136.4 704.2 1137.8 704.2 1139.1C704.1 1140.4 704.1 1141.8 704.1 1143.1C704 1144.4 704 1145.8 703.9 1147.1C703.9 1148.4 703.9 1149.8 703.8 1151.1C703.8 1152.4 703.8 1153.8 703.7 1155.1L703.1 1155.1C703 1153.8 703 1152.4 703 1151.1C702.9 1149.8 702.9 1148.4 702.9 1147.1C702.8 1145.8 702.8 1144.4 702.7 1143.1C702.7 1141.8 702.7 1140.4 702.6 1139.1C702.6 1137.8 702.5 1136.4 702.5 1135.1C702.4 1133.8 702.3 1132.4 702.3 1131.1C702.2 1129.8 702.1 1128.4 702.1 1127.1C702 1125.8 701.9 1124.5 701.8 1123.1C701.8 1121.8 701.7 1120.5 701.6 1119.1C701.5 1117.8 701.4 1116.5 701.3 1115.1C701.2 1113.8 701.1 1112.5 701 1111.1C700.9 1109.8 700.8 1108.5 700.7 1107.1C700.6 1105.8 700.5 1104.5 700.4 1103.1C700.2 1101.8 700.1 1100.5 700 1099.1C699.9 1097.8 699.8 1096.5 699.6 1095.1C699.5 1093.8 699.4 1092.5 699.2 1091.1C699.1 1089.8 699 1088.5 698.8 1087.1C698.7 1085.8 698.6 1084.5 698.4 1083.1C698.3 1081.8 698.1 1080.5 698 1079.1C697.9 1077.8 697.7 1076.5 697.6 1075.1C697.4 1073.8 697.3 1072.5 697.2 1071.2C697 1069.8 696.9 1068.5 696.7 1067.2C696.6 1065.8 696.5 1064.5 696.3 1063.2C696.2 1061.8 696 1060.5 695.9 1059.2C695.8 1057.8 695.6 1056.5 695.5 1055.2C695.3 1053.8 695.2 1052.5 695 1051.2C694.9 1049.8 694.7 1048.5 694.6 1047.2C694.4 1045.8 694.2 1044.5 694.1 1043.2C693.9 1041.8 693.7 1040.5 693.6 1039.2C693.4 1037.8 693.2 1036.5 693 1035.2C692.8 1033.8 692.6 1032.5 692.4 1031.2C692.2 1029.8 691.9 1028.5 691.7 1027.2C691.4 1025.8 691.2 1024.5 690.9 1023.2C690.6 1021.8 690.3 1020.5 689.9 1019.2C689.6 1017.9 689.3 1016.5 688.9 1015.2C688.5 1013.9 688.1 1012.5 687.7 1011.2C687.3 1009.9 686.8 1008.5 686.3 1007.2C685.9 1005.9 685.4 1004.5 684.8 1003.2C684.3 1001.9 683.7 1000.5 683.1 999.2C682.5 997.9 681.9 996.5 681.2 995.2C680.6 993.9 679.9 992.5 679.1 991.2C678.4 989.9 677.7 988.5 676.9 987.2C676.1 985.9 675.2 984.5 674.3 983.2C673.5 981.9 672.6 980.5 671.6 979.2C670.7 977.9 669.7 976.5 668.7 975.2C667.7 973.9 666.6 972.5 665.6 971.2C664.5 969.9 663.4 968.5 662.3 967.2C661.1 965.9 660 964.6 658.9 963.2C657.7 961.9 656.6 960.6 655.4 959.2C654.3 957.9 653.2 956.6 652.1 955.2C651 953.9 650 952.6 649 951.2C648 949.9 647.1 948.6 646.3 947.2C645.5 945.9 644.7 944.6 644 943.2C643.4 941.9 642.8 940.6 642.3 939.2C641.8 937.9 641.4 936.6 641 935.2C640.7 933.9 640.4 932.6 640.2 931.2C639.9 929.9 639.8 928.6 639.7 927.2C639.6 925.9 639.5 924.6 639.5 923.2C639.5 921.9 639.5 920.6 639.6 919.2C639.7 917.9 639.7 916.6 639.8 915.2C639.9 913.9 640 912.6 640.2 911.2C640.3 909.9 640.4 908.6 640.5 907.3C640.6 905.9 640.8 904.6 640.9 903.3C641 901.9 641.2 900.6 641.3 899.3C641.5 897.9 641.7 896.6 641.9 895.3C642.1 893.9 642.3 892.6 642.5 891.3C642.8 889.9 643 888.6 643.4 887.3C643.7 885.9 644 884.6 644.4 883.3C644.7 881.9 645.1 880.6 645.6 879.3C646 877.9 646.5 876.6 647 875.3C647.5 873.9 648.1 872.6 648.7 871.3C649.3 869.9 649.9 868.6 650.6 867.3C651.3 865.9 652 864.6 652.8 863.3C653.6 861.9 654.4 860.6 655.2 859.3C656.1 857.9 656.9 856.6 657.8 855.3C658.7 854 659.6 852.6 660.6 851.3C661.5 850 662.4 848.6 663.4 847.3C664.3 846 665.3 844.6 666.2 843.3C667.1 842 668 840.6 669 839.3C669.9 838 670.8 836.6 671.6 835.3C672.5 834 673.4 832.6 674.2 831.3C675 830 675.8 828.6 676.6 827.3C677.3 826 678 824.6 678.6 823.3C679.3 822 679.9 820.6 680.4 819.3C681 818 681.5 816.6 682 815.3C682.5 814 682.9 812.6 683.3 811.3C683.7 810 684.1 808.6 684.5 807.3C684.8 806 685.2 804.6 685.5 803.3C685.8 802 686.1 800.7 686.4 799.3C686.7 798 687 796.7 687.3 795.3C687.6 794 687.8 792.7 688.1 791.3C688.3 790 688.6 788.7 688.8 787.3C689.1 786 689.3 784.7 689.5 783.3C689.8 782 690 780.7 690.2 779.3C690.5 778 690.7 776.7 690.9 775.3C691.2 774 691.4 772.7 691.6 771.3C691.9 770 692.1 768.7 692.4 767.3C692.6 766 692.9 764.7 693.1 763.3C693.4 762 693.6 760.7 693.9 759.3C694.1 758 694.4 756.7 694.6 755.3C694.9 754 695.2 752.7 695.4 751.3C695.7 750 695.9 748.7 696.2 747.4C696.4 746 696.7 744.7 696.9 743.4C697.2 742 697.4 740.7 697.7 739.4C697.9 738 698.1 736.7 698.3 735.4C698.5 734 698.8 732.7 699 731.4C699.2 730 699.3 728.7 699.5 727.4C699.7 726 699.9 724.7 700 723.4C700.2 722 700.4 720.7 700.5 719.4C700.6 718 700.8 716.7 700.9 715.4C701 714 701.2 712.7 701.3 711.4C701.4 710 701.5 708.7 701.6 707.4C701.7 706 701.8 704.7 701.9 703.4C701.9 702 702 700.7 702.1 699.4C702.2 698 702.2 696.7 702.3 695.4C702.4 694.1 702.4 692.7 702.5 691.4C702.5 690.1 702.6 688.7 702.6 687.4C702.6 686.1 702.7 684.7 702.7 683.4C702.8 682.1 702.8 680.7 702.8 679.4C702.9 678.1 702.9 676.7 702.9 675.4C702.9 674.1 703 672.7 703 671.4C703 670.1 703 668.7 703.1 667.4Z"/>
<path fill="#F8766D" d="M1045.4 766.1L1046 766.1C1046.1 767.4 1046.1 768.8 1046.1 770.1C1046.2 771.5 1046.2 772.8 1046.3 774.1C1046.3 775.5 1046.4 776.8 1046.4 778.2C1046.5 779.5 1046.6 780.9 1046.7 782.2C1046.7 783.5 1046.8 784.9 1047 786.2C1047.1 787.6 1047.2 788.9 1047.4 790.2C1047.5 791.6 1047.7 792.9 1047.9 794.3C1048.1 795.6 1048.3 796.9 1048.5 798.3C1048.8 799.6 1049.1 801 1049.4 802.3C1049.7 803.6 1050 805 1050.4 806.3C1050.8 807.7 1051.2 809 1051.6 810.4C1052.1 811.7 1052.5 813 1053 814.4C1053.6 815.7 1054.1 817.1 1054.6 818.4C1055.2 819.7 1055.8 821.1 1056.4 822.4C1056.9 823.8 1057.5 825.1 1058.1 826.4C1058.7 827.8 1059.4 829.1 1060 830.5C1060.6 831.8 1061.2 833.1 1061.8 834.5C1062.4 835.8 1063 837.2 1063.6 838.5C1064.2 839.9 1064.8 841.2 1065.4 842.5C1066 843.9 1066.6 845.2 1067.2 846.6C1067.8 847.9 1068.3 849.2 1068.9 850.6C1069.5 851.9 1070.1 853.3 1070.6 854.6C1071.2 855.9 1071.8 857.3 1072.4 858.6C1073 860 1073.6 861.3 1074.2 862.6C1074.8 864 1075.4 865.3 1076.1 866.7C1076.7 868 1077.4 869.4 1078.1 870.7C1078.8 872 1079.5 873.4 1080.2 874.7C1080.9 876.1 1081.7 877.4 1082.5 878.7C1083.3 880.1 1084.2 881.4 1085.1 882.8C1086 884.1 1086.9 885.4 1087.9 886.8C1088.9 888.1 1089.9 889.5 1091 890.8C1092 892.1 1093.1 893.5 1094.3 894.8C1095.4 896.2 1096.6 897.5 1097.7 898.9C1098.9 900.2 1100.2 901.5 1101.4 902.9C1102.6 904.2 1103.9 905.6 1105.2 906.9C1106.4 908.2 1107.7 909.6 1109 910.9C1110.3 912.3 1111.6 913.6 1112.9 914.9C1114.2 916.3 1115.4 917.6 1116.7 919C1117.9 920.3 1119.1 921.6 1120.3 923C1121.5 924.3 1122.6 925.7 1123.7 927C1124.8 928.4 1125.8 929.7 1126.7 931C1127.7 932.4 1128.5 933.7 1129.3 935.1C1130.1 936.4 1130.9 937.7 1131.6 939.1C1132.3 940.4 1132.9 941.8 1133.5 943.1C1134.1 944.4 1134.6 945.8 1135.2 947.1C1135.7 948.5 1136.2 949.8 1136.7 951.1C1137.3 952.5 1137.8 953.8 1138.3 955.2C1138.8 956.5 1139.4 957.9 1139.8 959.2C1140.3 960.5 1140.6 961.9 1140.6 963.2C1140.6 964.6 1140.3 965.9 1139.6 967.2C1139 968.6 1138.1 969.9 1137 971.3C1135.9 972.6 1134.5 973.9 1132.9 975.3C1131.4 976.6 1129.7 978 1127.8 979.3C1126 980.6 1124.1 982 1122 983.3C1120 984.7 1118 986 1115.9 987.4C1113.7 988.7 1111.5 990 1109.3 991.4C1107.1 992.7 1104.8 994.1 1102.5 995.4C1100.2 996.7 1097.9 998.1 1095.6 999.4C1093.3 1000.8 1091.1 1002.1 1088.9 1003.4C1086.7 1004.8 1084.6 1006.1 1082.6 1007.5C1080.6 1008.8 1078.8 1010.1 1077 1011.5C1075.2 1012.8 1073.6 1014.2 1072 1015.5C1070.5 1016.9 1069.1 1018.2 1067.7 1019.5C1066.4 1020.9 1065.2 1022.2 1064.1 1023.6C1063 1024.9 1062 1026.2 1061.1 1027.6C1060.2 1028.9 1059.4 1030.3 1058.6 1031.6C1057.9 1032.9 1057.2 1034.3 1056.6 1035.6C1056 1037 1055.4 1038.3 1054.9 1039.6C1054.3 1041 1053.8 1042.3 1053.3 1043.7C1052.9 1045 1052.4 1046.4 1051.9 1047.7C1051.5 1049 1051 1050.4 1050.6 1051.7C1050.2 1053.1 1049.8 1054.4 1049.4 1055.7C1049 1057.1 1048.7 1058.4 1048.4 1059.8C1048.1 1061.1 1047.8 1062.4 1047.5 1063.8C1047.3 1065.1 1047.1 1066.5 1046.9 1067.8C1046.8 1069.1 1046.6 1070.5 1046.5 1071.8C1046.4 1073.2 1046.4 1074.5 1046.3 1075.9C1046.2 1077.2 1046.2 1078.5 1046.1 1079.9C1046.1 1081.2 1046.1 1082.6 1046 1083.9L1045.4 1083.9C1045.3 1082.6 1045.3 1081.2 1045.3 1079.9C1045.2 1078.5 1045.2 1077.2 1045.1 1075.9C1045 1074.5 1045 1073.2 1044.9 1071.8C1044.8 1070.5 1044.6 1069.1 1044.5 1067.8C1044.3 1066.5 1044.1 1065.1 1043.9 1063.8C1043.6 1062.4 1043.3 1061.1 1043 1059.8C1042.7 1058.4 1042.4 1057.1 1042 1055.7C1041.6 1054.4 1041.2 1053.1 1040.8 1051.7C1040.4 1050.4 1039.9 1049 1039.5 1047.7C1039 1046.4 1038.5 1045 1038.1 1043.7C1037.6 1042.3 1037.1 1041 1036.5 1039.6C1036 1038.3 1035.4 1037 1034.8 1035.6C1034.2 1034.3 1033.5 1032.9 1032.8 1031.6C1032 1030.3 1031.2 1028.9 1030.3 1027.6C1029.4 1026.2 1028.4 1024.9 1027.3 1023.6C1026.2 1022.2 1025 1020.9 1023.7 1019.5C1022.3 1018.2 1020.9 1016.9 1019.4 1015.5C1017.8 1014.2 1016.2 1012.8 1014.4 1011.5C1012.6 1010.1 1010.8 1008.8 1008.8 1007.5C1006.8 1006.1 1004.7 1004.8 1002.5 1003.4C1000.3 1002.1 998.1 1000.8 995.8 999.4C993.5 998.1 991.2 996.7 988.9 995.4C986.6 994.1 984.3 992.7 982.1 991.4C979.9 990 977.7 988.7 975.5 987.4C973.4 986 971.4 984.7 969.4 983.3C967.3 982 965.4 980.6 963.6 979.3C961.7 978 960 976.6 958.5 975.3C956.9 973.9 955.5 972.6 954.4 971.3C953.3 969.9 952.4 968.6 951.8 967.2C951.1 965.9 950.8 964.6 950.8 963.2C950.8 961.9 951.1 960.5 951.6 959.2C952 957.9 952.6 956.5 953.1 955.2C953.6 953.8 954.1 952.5 954.7 951.1C955.2 949.8 955.7 948.5 956.2 947.1C956.8 945.8 957.3 944.4 957.9 943.1C958.5 941.8 959.1 940.4 959.8 939.1C960.5 937.7 961.3 936.4 962.1 935.1C962.9 933.7 963.7 932.4 964.7 931C965.6 929.7 966.6 928.4 967.7 927C968.8 925.7 969.9 924.3 971.1 923C972.3 921.6 973.5 920.3 974.7 919C976 917.6 977.2 916.3 978.5 914.9C979.8 913.6 981.1 912.3 982.4 910.9C983.7 909.6 985 908.2 986.2 906.9C987.5 905.6 988.8 904.2 990 902.9C991.2 901.5 992.5 900.2 993.7 898.9C994.8 897.5 996 896.2 997.1 894.8C998.3 893.5 999.4 892.1 1000.4 890.8C1001.5 889.5 1002.5 888.1 1003.5 886.8C1004.5 885.4 1005.4 884.1 1006.3 882.8C1007.2 881.4 1008.1 880.1 1008.9 878.7C1009.7 877.4 1010.5 876.1 1011.2 874.7C1011.9 873.4 1012.6 872 1013.3 870.7C1014 869.4 1014.7 868 1015.3 866.7C1016 865.3 1016.6 864 1017.2 862.6C1017.8 861.3 1018.4 860 1019 858.6C1019.6 857.3 1020.2 855.9 1020.8 854.6C1021.3 853.3 1021.9 851.9 1022.5 850.6C1023.1 849.2 1023.6 847.9 1024.2 846.6C1024.8 845.2 1025.4 843.9 1026 842.5C1026.6 841.2 1027.2 839.9 1027.8 838.5C1028.4 837.2 1029 835.8 1029.6 834.5C1030.2 833.1 1030.8 831.8 1031.4 830.5C1032 829.1 1032.7 827.8 1033.3 826.4C1033.9 825.1 1034.5 823.8 1035 822.4C1035.6 821.1 1036.2 819.7 1036.8 818.4C1037.3 817.1 1037.8 815.7 1038.4 814.4C1038.9 813 1039.3 811.7 1039.8 810.4C1040.2 809 1040.6 807.7 1041 806.3C1041.4 805 1041.7 803.6 1042 802.3C1042.3 801 1042.6 799.6 1042.9 798.3C1043.1 796.9 1043.3 795.6 1043.5 794.3C1043.7 792.9 1043.9 791.6 1044 790.2C1044.2 788.9 1044.3 787.6 1044.4 786.2C1044.6 784.9 1044.7 783.5 1044.7 782.2C1044.8 780.9 1044.9 779.5 1045 778.2C1045 776.8 1045.1 775.5 1045.1 774.1C1045.2 772.8 1045.2 771.5 1045.3 770.1C1045.3 768.8 1045.3 767.4 1045.4 766.1Z"/>
<path fill="#00BA38" d="M1254.9 698.6L1255.5 698.6C1255.6 699.9 1255.6 701.3 1255.6 702.6C1255.7 703.9 1255.7 705.3 1255.8 706.6C1255.8 707.9 1255.9 709.2 1255.9 710.6C1256 711.9 1256.1 713.2 1256.1 714.6C1256.2 715.9 1256.3 717.2 1256.4 718.6C1256.5 719.9 1256.6 721.2 1256.7 722.5C1256.8 723.9 1256.9 725.2 1257.1 726.5C1257.2 727.9 1257.4 729.2 1257.5 730.5C1257.7 731.9 1257.9 733.2 1258.1 734.5C1258.3 735.8 1258.5 737.2 1258.8 738.5C1259 739.8 1259.3 741.2 1259.5 742.5C1259.8 743.8 1260.1 745.2 1260.5 746.5C1260.8 747.8 1261.2 749.1 1261.6 750.5C1261.9 751.8 1262.4 753.1 1262.8 754.5C1263.2 755.8 1263.7 757.1 1264.2 758.5C1264.7 759.8 1265.2 761.1 1265.7 762.5C1266.2 763.8 1266.8 765.1 1267.4 766.4C1268 767.8 1268.5 769.1 1269.2 770.4C1269.8 771.8 1270.4 773.1 1271 774.4C1271.6 775.8 1272.3 777.1 1272.9 778.4C1273.5 779.7 1274.2 781.1 1274.8 782.4C1275.5 783.7 1276.1 785.1 1276.8 786.4C1277.4 787.7 1278.1 789.1 1278.7 790.4C1279.4 791.7 1280 793 1280.6 794.4C1281.2 795.7 1281.9 797 1282.5 798.4C1283.1 799.7 1283.7 801 1284.3 802.4C1284.9 803.7 1285.5 805 1286.1 806.3C1286.7 807.7 1287.2 809 1287.8 810.3C1288.4 811.7 1288.9 813 1289.5 814.3C1290.1 815.7 1290.6 817 1291.2 818.3C1291.7 819.7 1292.3 821 1292.8 822.3C1293.4 823.6 1293.9 825 1294.5 826.3C1295 827.6 1295.6 829 1296.1 830.3C1296.6 831.6 1297.2 833 1297.7 834.3C1298.2 835.6 1298.8 836.9 1299.3 838.3C1299.8 839.6 1300.3 840.9 1300.9 842.3C1301.4 843.6 1301.9 844.9 1302.4 846.3C1302.9 847.6 1303.4 848.9 1303.9 850.2C1304.4 851.6 1304.9 852.9 1305.4 854.2C1305.9 855.6 1306.4 856.9 1307 858.2C1307.5 859.6 1308.1 860.9 1308.7 862.2C1309.4 863.5 1310.1 864.9 1310.8 866.2C1311.5 867.5 1312.3 868.9 1313.2 870.2C1314.1 871.5 1315 872.9 1316.1 874.2C1317.1 875.5 1318.2 876.9 1319.3 878.2C1320.4 879.5 1321.6 880.8 1322.8 882.2C1324 883.5 1325.2 884.8 1326.4 886.2C1327.5 887.5 1328.7 888.8 1329.8 890.2C1330.8 891.5 1331.8 892.8 1332.7 894.1C1333.6 895.5 1334.4 896.8 1335 898.1C1335.6 899.5 1336.1 900.8 1336.3 902.1C1336.6 903.5 1336.8 904.8 1336.7 906.1C1336.6 907.4 1336.4 908.8 1336 910.1C1335.6 911.4 1335 912.8 1334.3 914.1C1333.5 915.4 1332.7 916.8 1331.7 918.1C1330.6 919.4 1329.5 920.8 1328.3 922.1C1327 923.4 1325.7 924.7 1324.3 926.1C1322.9 927.4 1321.4 928.7 1319.9 930.1C1318.4 931.4 1316.8 932.7 1315.2 934.1C1313.6 935.4 1312 936.7 1310.4 938C1308.7 939.4 1307.1 940.7 1305.5 942C1303.9 943.4 1302.3 944.7 1300.8 946C1299.2 947.4 1297.7 948.7 1296.2 950C1294.7 951.3 1293.3 952.7 1291.9 954C1290.5 955.3 1289.2 956.7 1287.9 958C1286.7 959.3 1285.6 960.7 1284.6 962C1283.6 963.3 1282.7 964.6 1281.9 966C1281.1 967.3 1280.5 968.6 1280 970C1279.4 971.3 1279 972.6 1278.6 974C1278.2 975.3 1278 976.6 1277.8 978C1277.5 979.3 1277.4 980.6 1277.3 981.9C1277.2 983.3 1277.1 984.6 1277.1 985.9C1277 987.3 1277 988.6 1276.9 989.9C1276.8 991.3 1276.8 992.6 1276.7 993.9C1276.6 995.2 1276.4 996.6 1276.3 997.9C1276.1 999.2 1275.9 1000.6 1275.7 1001.9C1275.5 1003.2 1275.2 1004.6 1274.9 1005.9C1274.7 1007.2 1274.3 1008.5 1274 1009.9C1273.6 1011.2 1273.2 1012.5 1272.8 1013.9C1272.4 1015.2 1271.9 1016.5 1271.4 1017.9C1271 1019.2 1270.5 1020.5 1269.9 1021.8C1269.4 1023.2 1268.9 1024.5 1268.3 1025.8C1267.7 1027.2 1267.2 1028.5 1266.6 1029.8C1266 1031.2 1265.5 1032.5 1264.9 1033.8C1264.3 1035.2 1263.8 1036.5 1263.2 1037.8C1262.7 1039.1 1262.2 1040.5 1261.7 1041.8C1261.2 1043.1 1260.8 1044.5 1260.3 1045.8C1259.9 1047.1 1259.5 1048.5 1259.2 1049.8C1258.8 1051.1 1258.5 1052.4 1258.2 1053.8C1257.9 1055.1 1257.7 1056.4 1257.5 1057.8C1257.2 1059.1 1257 1060.4 1256.9 1061.8C1256.7 1063.1 1256.6 1064.4 1256.5 1065.7C1256.3 1067.1 1256.2 1068.4 1256.1 1069.7C1256.1 1071.1 1256 1072.4 1255.9 1073.7C1255.8 1075.1 1255.8 1076.4 1255.7 1077.7C1255.7 1079 1255.7 1080.4 1255.6 1081.7C1255.6 1083 1255.6 1084.4 1255.5 1085.7L1254.9 1085.7C1254.8 1084.4 1254.8 1083 1254.8 1081.7C1254.7 1080.4 1254.7 1079 1254.7 1077.7C1254.6 1076.4 1254.6 1075.1 1254.5 1073.7C1254.4 1072.4 1254.3 1071.1 1254.3 1069.7C1254.2 1068.4 1254.1 1067.1 1253.9 1065.7C1253.8 1064.4 1253.7 1063.1 1253.5 1061.8C1253.4 1060.4 1253.2 1059.1 1252.9 1057.8C1252.7 1056.4 1252.5 1055.1 1252.2 1053.8C1251.9 1052.4 1251.6 1051.1 1251.2 1049.8C1250.9 1048.5 1250.5 1047.1 1250.1 1045.8C1249.6 1044.5 1249.2 1043.1 1248.7 1041.8C1248.2 1040.5 1247.7 1039.1 1247.2 1037.8C1246.6 1036.5 1246.1 1035.2 1245.5 1033.8C1244.9 1032.5 1244.4 1031.2 1243.8 1029.8C1243.2 1028.5 1242.7 1027.2 1242.1 1025.8C1241.5 1024.5 1241 1023.2 1240.5 1021.8C1239.9 1020.5 1239.4 1019.2 1239 1017.9C1238.5 1016.5 1238 1015.2 1237.6 1013.9C1237.2 1012.5 1236.8 1011.2 1236.4 1009.9C1236.1 1008.5 1235.7 1007.2 1235.5 1005.9C1235.2 1004.6 1234.9 1003.2 1234.7 1001.9C1234.5 1000.6 1234.3 999.2 1234.1 997.9C1234 996.6 1233.8 995.2 1233.7 993.9C1233.6 992.6 1233.6 991.3 1233.5 989.9C1233.4 988.6 1233.4 987.3 1233.3 985.9C1233.3 984.6 1233.2 983.3 1233.1 981.9C1233 980.6 1232.9 979.3 1232.6 978C1232.4 976.6 1232.2 975.3 1231.8 974C1231.4 972.6 1231 971.3 1230.4 970C1229.9 968.6 1229.3 967.3 1228.5 966C1227.7 964.6 1226.8 963.3 1225.8 962C1224.8 960.7 1223.7 959.3 1222.5 958C1221.2 956.7 1219.9 955.3 1218.5 954C1217.1 952.7 1215.7 951.3 1214.2 950C1212.7 948.7 1211.2 947.4 1209.6 946C1208.1 944.7 1206.5 943.4 1204.9 942C1203.3 940.7 1201.7 939.4 1200 938C1198.4 936.7 1196.8 935.4 1195.2 934.1C1193.6 932.7 1192 931.4 1190.5 930.1C1189 928.7 1187.5 927.4 1186.1 926.1C1184.7 924.7 1183.4 923.4 1182.1 922.1C1180.9 920.8 1179.8 919.4 1178.7 918.1C1177.7 916.8 1176.9 915.4 1176.1 914.1C1175.4 912.8 1174.8 911.4 1174.4 910.1C1174 908.8 1173.8 907.4 1173.7 906.1C1173.6 904.8 1173.8 903.5 1174.1 902.1C1174.3 900.8 1174.8 899.5 1175.4 898.1C1176 896.8 1176.8 895.5 1177.7 894.1C1178.6 892.8 1179.6 891.5 1180.6 890.2C1181.7 888.8 1182.9 887.5 1184 886.2C1185.2 884.8 1186.4 883.5 1187.6 882.2C1188.8 880.8 1190 879.5 1191.1 878.2C1192.2 876.9 1193.3 875.5 1194.3 874.2C1195.4 872.9 1196.3 871.5 1197.2 870.2C1198.1 868.9 1198.9 867.5 1199.6 866.2C1200.3 864.9 1201 863.5 1201.7 862.2C1202.3 860.9 1202.9 859.6 1203.4 858.2C1204 856.9 1204.5 855.6 1205 854.2C1205.5 852.9 1206 851.6 1206.5 850.2C1207 848.9 1207.5 847.6 1208 846.3C1208.5 844.9 1209 843.6 1209.5 842.3C1210.1 840.9 1210.6 839.6 1211.1 838.3C1211.6 836.9 1212.2 835.6 1212.7 834.3C1213.2 833 1213.8 831.6 1214.3 830.3C1214.8 829 1215.4 827.6 1215.9 826.3C1216.5 825 1217 823.6 1217.6 822.3C1218.1 821 1218.7 819.7 1219.2 818.3C1219.8 817 1220.3 815.7 1220.9 814.3C1221.5 813 1222 811.7 1222.6 810.3C1223.2 809 1223.7 807.7 1224.3 806.3C1224.9 805 1225.5 803.7 1226.1 802.4C1226.7 801 1227.3 799.7 1227.9 798.4C1228.5 797 1229.2 795.7 1229.8 794.4C1230.4 793 1231 791.7 1231.7 790.4C1232.3 789.1 1233 787.7 1233.6 786.4C1234.3 785.1 1234.9 783.7 1235.6 782.4C1236.2 781.1 1236.9 779.7 1237.5 778.4C1238.1 777.1 1238.8 775.8 1239.4 774.4C1240 773.1 1240.6 771.8 1241.2 770.4C1241.9 769.1 1242.4 767.8 1243 766.4C1243.6 765.1 1244.2 763.8 1244.7 762.5C1245.2 761.1 1245.7 759.8 1246.2 758.5C1246.7 757.1 1247.2 755.8 1247.6 754.5C1248 753.1 1248.5 751.8 1248.8 750.5C1249.2 749.1 1249.6 747.8 1249.9 746.5C1250.3 745.2 1250.6 743.8 1250.9 742.5C1251.1 741.2 1251.4 739.8 1251.6 738.5C1251.9 737.2 1252.1 735.8 1252.3 734.5C1252.5 733.2 1252.7 731.9 1252.9 730.5C1253 729.2 1253.2 727.9 1253.3 726.5C1253.5 725.2 1253.6 723.9 1253.7 722.5C1253.8 721.2 1253.9 719.9 1254 718.6C1254.1 717.2 1254.2 715.9 1254.3 714.6C1254.3 713.2 1254.4 711.9 1254.5 710.6C1254.5 709.2 1254.6 707.9 1254.6 706.6C1254.7 705.3 1254.7 703.9 1254.8 702.6C1254.8 701.3 1254.8 699.9 1254.9 698.6Z"/>
<path fill="#619CFF" d="M1463.9 667.4L1464.7 667.4C1464.7 668.7 1464.7 670.1 1464.7 671.4C1464.8 672.7 1464.8 674.1 1464.8 675.4C1464.9 676.7 1464.9 678.1 1464.9 679.4C1465 680.7 1465 682.1 1465.1 683.4C1465.1 684.7 1465.2 686.1 1465.2 687.4C1465.3 688.7 1465.3 690.1 1465.4 691.4C1465.5 692.7 1465.5 694.1 1465.6 695.4C1465.7 696.7 1465.8 698 1465.9 699.4C1466 700.7 1466.1 702 1466.2 703.4C1466.3 704.7 1466.4 706 1466.5 707.4C1466.6 708.7 1466.8 710 1466.9 711.4C1467 712.7 1467.2 714 1467.4 715.4C1467.5 716.7 1467.7 718 1467.9 719.4C1468.1 720.7 1468.3 722 1468.5 723.4C1468.7 724.7 1469 726 1469.2 727.4C1469.5 728.7 1469.7 730 1470 731.4C1470.3 732.7 1470.6 734 1470.9 735.4C1471.3 736.7 1471.6 738 1472 739.4C1472.4 740.7 1472.8 742 1473.2 743.4C1473.6 744.7 1474.1 746 1474.5 747.4C1475 748.7 1475.5 750 1476.1 751.3C1476.6 752.7 1477.2 754 1477.8 755.3C1478.4 756.7 1479.1 758 1479.7 759.3C1480.4 760.7 1481.1 762 1481.9 763.3C1482.6 764.7 1483.4 766 1484.2 767.3C1485 768.7 1485.9 770 1486.8 771.3C1487.7 772.7 1488.6 774 1489.5 775.3C1490.5 776.7 1491.5 778 1492.5 779.3C1493.5 780.7 1494.5 782 1495.5 783.3C1496.6 784.7 1497.6 786 1498.7 787.3C1499.8 788.7 1500.9 790 1502 791.3C1503 792.7 1504.1 794 1505.2 795.3C1506.3 796.7 1507.3 798 1508.4 799.3C1509.4 800.7 1510.4 802 1511.4 803.3C1512.4 804.6 1513.3 806 1514.2 807.3C1515.2 808.6 1516 810 1516.9 811.3C1517.7 812.6 1518.5 814 1519.3 815.3C1520 816.6 1520.7 818 1521.4 819.3C1522 820.6 1522.6 822 1523.2 823.3C1523.7 824.6 1524.3 826 1524.7 827.3C1525.2 828.6 1525.6 830 1525.9 831.3C1526.3 832.6 1526.6 834 1526.8 835.3C1527.1 836.6 1527.3 838 1527.4 839.3C1527.6 840.6 1527.7 842 1527.7 843.3C1527.8 844.6 1527.8 846 1527.8 847.3C1527.8 848.6 1527.7 850 1527.6 851.3C1527.5 852.6 1527.4 854 1527.2 855.3C1527.1 856.6 1526.8 857.9 1526.6 859.3C1526.4 860.6 1526.1 861.9 1525.8 863.3C1525.5 864.6 1525.2 865.9 1524.8 867.3C1524.4 868.6 1524.1 869.9 1523.7 871.3C1523.3 872.6 1522.8 873.9 1522.4 875.3C1521.9 876.6 1521.5 877.9 1521 879.3C1520.5 880.6 1520 881.9 1519.5 883.3C1519 884.6 1518.4 885.9 1517.9 887.3C1517.3 888.6 1516.8 889.9 1516.2 891.3C1515.7 892.6 1515.1 893.9 1514.5 895.3C1514 896.6 1513.4 897.9 1512.8 899.3C1512.2 900.6 1511.7 901.9 1511.1 903.3C1510.5 904.6 1509.9 905.9 1509.4 907.3C1508.8 908.6 1508.2 909.9 1507.6 911.2C1507.1 912.6 1506.5 913.9 1506 915.2C1505.4 916.6 1504.8 917.9 1504.3 919.2C1503.8 920.6 1503.2 921.9 1502.7 923.2C1502.2 924.6 1501.6 925.9 1501.1 927.2C1500.6 928.6 1500.1 929.9 1499.6 931.2C1499.2 932.6 1498.7 933.9 1498.2 935.2C1497.7 936.6 1497.3 937.9 1496.9 939.2C1496.4 940.6 1496 941.9 1495.6 943.2C1495.1 944.6 1494.7 945.9 1494.3 947.2C1493.9 948.6 1493.5 949.9 1493.1 951.2C1492.7 952.6 1492.3 953.9 1492 955.2C1491.6 956.6 1491.2 957.9 1490.9 959.2C1490.5 960.6 1490.2 961.9 1489.8 963.2C1489.5 964.6 1489.1 965.9 1488.8 967.2C1488.4 968.5 1488.1 969.9 1487.8 971.2C1487.5 972.5 1487.2 973.9 1486.8 975.2C1486.5 976.5 1486.2 977.9 1485.9 979.2C1485.6 980.5 1485.3 981.9 1485 983.2C1484.8 984.5 1484.5 985.9 1484.2 987.2C1483.9 988.5 1483.6 989.9 1483.4 991.2C1483.1 992.5 1482.8 993.9 1482.6 995.2C1482.3 996.5 1482.1 997.9 1481.8 999.2C1481.6 1000.5 1481.3 1001.9 1481.1 1003.2C1480.9 1004.5 1480.6 1005.9 1480.4 1007.2C1480.2 1008.5 1479.9 1009.9 1479.7 1011.2C1479.5 1012.5 1479.3 1013.9 1479.1 1015.2C1478.8 1016.5 1478.6 1017.9 1478.4 1019.2C1478.2 1020.5 1478 1021.8 1477.8 1023.2C1477.6 1024.5 1477.4 1025.8 1477.2 1027.2C1477 1028.5 1476.8 1029.8 1476.6 1031.2C1476.4 1032.5 1476.2 1033.8 1476 1035.2C1475.8 1036.5 1475.6 1037.8 1475.4 1039.2C1475.2 1040.5 1475 1041.8 1474.8 1043.2C1474.6 1044.5 1474.4 1045.8 1474.2 1047.2C1474 1048.5 1473.8 1049.8 1473.6 1051.2C1473.4 1052.5 1473.2 1053.8 1473 1055.2C1472.8 1056.5 1472.6 1057.8 1472.4 1059.2C1472.2 1060.5 1472 1061.8 1471.8 1063.2C1471.6 1064.5 1471.4 1065.8 1471.2 1067.2C1471 1068.5 1470.8 1069.8 1470.6 1071.2C1470.4 1072.5 1470.3 1073.8 1470.1 1075.1C1469.9 1076.5 1469.7 1077.8 1469.5 1079.1C1469.4 1080.5 1469.2 1081.8 1469 1083.1C1468.9 1084.5 1468.7 1085.8 1468.5 1087.1C1468.4 1088.5 1468.2 1089.8 1468.1 1091.1C1467.9 1092.5 1467.8 1093.8 1467.7 1095.1C1467.5 1096.5 1467.4 1097.8 1467.3 1099.1C1467.2 1100.5 1467 1101.8 1466.9 1103.1C1466.8 1104.5 1466.7 1105.8 1466.6 1107.1C1466.5 1108.5 1466.4 1109.8 1466.3 1111.1C1466.2 1112.5 1466.1 1113.8 1466.1 1115.1C1466 1116.5 1465.9 1117.8 1465.8 1119.1C1465.7 1120.5 1465.7 1121.8 1465.6 1123.1C1465.5 1124.5 1465.5 1125.8 1465.4 1127.1C1465.4 1128.4 1465.3 1129.8 1465.3 1131.1C1465.2 1132.4 1465.2 1133.8 1465.1 1135.1C1465.1 1136.4 1465 1137.8 1465 1139.1C1465 1140.4 1464.9 1141.8 1464.9 1143.1C1464.9 1144.4 1464.8 1145.8 1464.8 1147.1C1464.8 1148.4 1464.7 1149.8 1464.7 1151.1C1464.7 1152.4 1464.7 1153.8 1464.6 1155.1L1464 1155.1C1463.9 1153.8 1463.9 1152.4 1463.9 1151.1C1463.9 1149.8 1463.8 1148.4 1463.8 1147.1C1463.8 1145.8 1463.7 1144.4 1463.7 1143.1C1463.7 1141.8 1463.6 1140.4 1463.6 1139.1C1463.6 1137.8 1463.5 1136.4 1463.5 1135.1C1463.4 1133.8 1463.4 1132.4 1463.3 1131.1C1463.3 1129.8 1463.2 1128.4 1463.2 1127.1C1463.1 1125.8 1463.1 1124.5 1463 1123.1C1462.9 1121.8 1462.9 1120.5 1462.8 1119.1C1462.7 1117.8 1462.6 1116.5 1462.5 1115.1C1462.5 1113.8 1462.4 1112.5 1462.3 1111.1C1462.2 1109.8 1462.1 1108.5 1462 1107.1C1461.9 1105.8 1461.8 1104.5 1461.7 1103.1C1461.6 1101.8 1461.4 1100.5 1461.3 1099.1C1461.2 1097.8 1461.1 1096.5 1460.9 1095.1C1460.8 1093.8 1460.7 1092.5 1460.5 1091.1C1460.4 1089.8 1460.2 1088.5 1460.1 1087.1C1459.9 1085.8 1459.7 1084.5 1459.6 1083.1C1459.4 1081.8 1459.2 1080.5 1459.1 1079.1C1458.9 1077.8 1458.7 1076.5 1458.5 1075.1C1458.3 1073.8 1458.2 1072.5 1458 1071.2C1457.8 1069.8 1457.6 1068.5 1457.4 1067.2C1457.2 1065.8 1457 1064.5 1456.8 1063.2C1456.6 1061.8 1456.4 1060.5 1456.2 1059.2C1456 1057.8 1455.8 1056.5 1455.6 1055.2C1455.4 1053.8 1455.2 1052.5 1455 1051.2C1454.8 1049.8 1454.6 1048.5 1454.4 1047.2C1454.2 1045.8 1454 1044.5 1453.8 1043.2C1453.6 1041.8 1453.4 1040.5 1453.2 1039.2C1453 1037.8 1452.8 1036.5 1452.6 1035.2C1452.4 1033.8 1452.2 1032.5 1452 1031.2C1451.8 1029.8 1451.6 1028.5 1451.4 1027.2C1451.2 1025.8 1451 1024.5 1450.8 1023.2C1450.6 1021.8 1450.4 1020.5 1450.2 1019.2C1450 1017.9 1449.8 1016.5 1449.5 1015.2C1449.3 1013.9 1449.1 1012.5 1448.9 1011.2C1448.7 1009.9 1448.4 1008.5 1448.2 1007.2C1448 1005.9 1447.7 1004.5 1447.5 1003.2C1447.3 1001.9 1447 1000.5 1446.8 999.2C1446.5 997.9 1446.3 996.5 1446 995.2C1445.8 993.9 1445.5 992.5 1445.2 991.2C1445 989.9 1444.7 988.5 1444.4 987.2C1444.1 985.9 1443.8 984.5 1443.6 983.2C1443.3 981.9 1443 980.5 1442.7 979.2C1442.4 977.9 1442.1 976.5 1441.8 975.2C1441.4 973.9 1441.1 972.5 1440.8 971.2C1440.5 969.9 1440.2 968.5 1439.8 967.2C1439.5 965.9 1439.1 964.6 1438.8 963.2C1438.4 961.9 1438.1 960.6 1437.7 959.2C1437.4 957.9 1437 956.6 1436.6 955.2C1436.3 953.9 1435.9 952.6 1435.5 951.2C1435.1 949.9 1434.7 948.6 1434.3 947.2C1433.9 945.9 1433.5 944.6 1433 943.2C1432.6 941.9 1432.2 940.6 1431.7 939.2C1431.3 937.9 1430.9 936.6 1430.4 935.2C1429.9 933.9 1429.4 932.6 1429 931.2C1428.5 929.9 1428 928.6 1427.5 927.2C1427 925.9 1426.4 924.6 1425.9 923.2C1425.4 921.9 1424.8 920.6 1424.3 919.2C1423.8 917.9 1423.2 916.6 1422.6 915.2C1422.1 913.9 1421.5 912.6 1421 911.2C1420.4 909.9 1419.8 908.6 1419.2 907.3C1418.7 905.9 1418.1 904.6 1417.5 903.3C1416.9 901.9 1416.4 900.6 1415.8 899.3C1415.2 897.9 1414.6 896.6 1414.1 895.3C1413.5 893.9 1412.9 892.6 1412.4 891.3C1411.8 889.9 1411.3 888.6 1410.7 887.3C1410.2 885.9 1409.6 884.6 1409.1 883.3C1408.6 881.9 1408.1 880.6 1407.6 879.3C1407.1 877.9 1406.7 876.6 1406.2 875.3C1405.8 873.9 1405.3 872.6 1404.9 871.3C1404.5 869.9 1404.2 868.6 1403.8 867.3C1403.4 865.9 1403.1 864.6 1402.8 863.3C1402.5 861.9 1402.2 860.6 1402 859.3C1401.8 857.9 1401.5 856.6 1401.4 855.3C1401.2 854 1401.1 852.6 1401 851.3C1400.9 850 1400.8 848.6 1400.8 847.3C1400.8 846 1400.8 844.6 1400.9 843.3C1400.9 842 1401 840.6 1401.2 839.3C1401.3 838 1401.5 836.6 1401.8 835.3C1402 834 1402.3 832.6 1402.7 831.3C1403 830 1403.4 828.6 1403.9 827.3C1404.3 826 1404.9 824.6 1405.4 823.3C1406 822 1406.6 820.6 1407.2 819.3C1407.9 818 1408.6 816.6 1409.3 815.3C1410.1 814 1410.9 812.6 1411.7 811.3C1412.6 810 1413.4 808.6 1414.4 807.3C1415.3 806 1416.2 804.6 1417.2 803.3C1418.2 802 1419.2 800.7 1420.2 799.3C1421.3 798 1422.3 796.7 1423.4 795.3C1424.5 794 1425.6 792.7 1426.6 791.3C1427.7 790 1428.8 788.7 1429.9 787.3C1431 786 1432 784.7 1433.1 783.3C1434.1 782 1435.1 780.7 1436.1 779.3C1437.1 778 1438.1 776.7 1439.1 775.3C1440 774 1440.9 772.7 1441.8 771.3C1442.7 770 1443.6 768.7 1444.4 767.3C1445.2 766 1446 764.7 1446.7 763.3C1447.5 762 1448.2 760.7 1448.9 759.3C1449.5 758 1450.2 756.7 1450.8 755.3C1451.4 754 1452 752.7 1452.5 751.3C1453.1 750 1453.6 748.7 1454.1 747.4C1454.5 746 1455 744.7 1455.4 743.4C1455.8 742 1456.2 740.7 1456.6 739.4C1457 738 1457.3 736.7 1457.7 735.4C1458 734 1458.3 732.7 1458.6 731.4C1458.9 730 1459.1 728.7 1459.4 727.4C1459.6 726 1459.9 724.7 1460.1 723.4C1460.3 722 1460.5 720.7 1460.7 719.4C1460.9 718 1461.1 716.7 1461.2 715.4C1461.4 714 1461.6 712.7 1461.7 711.4C1461.8 710 1462 708.7 1462.1 707.4C1462.2 706 1462.3 704.7 1462.4 703.4C1462.5 702 1462.6 700.7 1462.7 699.4C1462.8 698 1462.9 696.7 1463 695.4C1463.1 694.1 1463.1 692.7 1463.2 691.4C1463.3 690.1 1463.3 688.7 1463.4 687.4C1463.4 686.1 1463.5 684.7 1463.5 683.4C1463.6 682.1 1463.6 680.7 1463.7 679.4C1463.7 678.1 1463.7 676.7 1463.8 675.4C1463.8 674.1 1463.8 672.7 1463.9 671.4C1463.9 670.1 1463.9 668.7 1463.9 667.4Z"/>
</g>
<g class="ax">
<line x1="159.4" y1="40" x2="159.4" y2="582.7" stroke-width="5.8"/>
<line x1="141.3" y1="122.4" x2="159.4" y2="122.4" stroke-width="5.6"/>
<line x1="141.3" y1="272.6" x2="159.4" y2="272.6" stroke-width="5.6"/>
<line x1="141.3" y1="423.6" x2="159.4" y2="423.6" stroke-width="5.6"/>
<line x1="141.3" y1="574.6" x2="159.4" y2="574.6" stroke-width="5.6"/>
<line x1="920.1" y1="40" x2="920.1" y2="582.7" stroke-width="5.8"/>
<line x1="902" y1="54.9" x2="920.1" y2="54.9" stroke-width="5.6"/>
<line x1="902" y1="164.6" x2="920.1" y2="164.6" stroke-width="5.6"/>
<line x1="902" y1="274.3" x2="920.1" y2="274.3" stroke-width="5.6"/>
<line x1="902" y1="383.9" x2="920.1" y2="383.9" stroke-width="5.6"/>
<line x1="902" y1="493.6" x2="920.1" y2="493.6" stroke-width="5.6"/>
<line x1="159.4" y1="640.4" x2="159.4" y2="1182.6" stroke-width="5.8"/>
<line x1="141.3" y1="689" x2="159.4" y2="689" stroke-width="5.6"/>
<line x1="141.3" y1="804.6" x2="159.4" y2="804.6" stroke-width="5.6"/>
<line x1="141.3" y1="921" x2="159.4" y2="921" stroke-width="5.6"/>
<line x1="141.3" y1="1037.4" x2="159.4" y2="1037.4" stroke-width="5.6"/>
<line x1="141.3" y1="1153.7" x2="159.4" y2="1153.7" stroke-width="5.6"/>
<line x1="920.1" y1="640.4" x2="920.1" y2="1182.6" stroke-width="5.8"/>
<line x1="902" y1="715" x2="920.1" y2="715" stroke-width="5.6"/>
<line x1="902" y1="828" x2="920.1" y2="828" stroke-width="5.6"/>
<line x1="902" y1="941" x2="920.1" y2="941" stroke-width="5.6"/>
<line x1="902" y1="1054.5" x2="920.1" y2="1054.5" stroke-width="5.6"/>
<line x1="902" y1="1168" x2="920.1" y2="1168" stroke-width="5.6"/>
<line x1="156.5" y1="1179.7" x2="832.4" y2="1179.7" stroke-width="5.8"/>
<line x1="917.2" y1="1179.7" x2="1593" y2="1179.7" stroke-width="5.8"/>
<line x1="285" y1="1179.7" x2="285" y2="1197.8" stroke-width="5.6"/>
<line x1="494" y1="1179.7" x2="494" y2="1197.8" stroke-width="5.6"/>
<line x1="703.3" y1="1179.7" x2="703.3" y2="1197.8" stroke-width="5.6"/>
<line x1="1045.8" y1="1179.7" x2="1045.8" y2="1197.8" stroke-width="5.6"/>
<line x1="1255.2" y1="1179.7" x2="1255.2" y2="1197.8" stroke-width="5.6"/>
<line x1="1464.3" y1="1179.7" x2="1464.3" y2="1197.8" stroke-width="5.6"/>
</g>
<g class="tk b">
<text transform="translate(138.6 136.5) scale(1 1.05)" text-anchor="end">300</text>
<text transform="translate(138.6 286.7) scale(1 1.05)" text-anchor="end">200</text>
<text transform="translate(138.6 437.7) scale(1 1.05)" text-anchor="end">100</text>
<text transform="translate(138.6 588.7) scale(1 1.05)" text-anchor="end">0</text>
<text transform="translate(899.3 69) scale(1 1.05)" text-anchor="end">2.5</text>
<text transform="translate(899.3 178.7) scale(1 1.05)" text-anchor="end">2.0</text>
<text transform="translate(899.3 288.4) scale(1 1.05)" text-anchor="end">1.5</text>
<text transform="translate(899.3 398) scale(1 1.05)" text-anchor="end">1.0</text>
<text transform="translate(899.3 507.7) scale(1 1.05)" text-anchor="end">0.5</text>
<text transform="translate(138.6 703.1) scale(1 1.05)" text-anchor="end">12.5</text>
<text transform="translate(138.6 818.7) scale(1 1.05)" text-anchor="end">10.0</text>
<text transform="translate(138.6 935.1) scale(1 1.05)" text-anchor="end">7.5</text>
<text transform="translate(138.6 1051.5) scale(1 1.05)" text-anchor="end">5.0</text>
<text transform="translate(138.6 1167.8) scale(1 1.05)" text-anchor="end">2.5</text>
<text transform="translate(899.3 729.1) scale(1 1.05)" text-anchor="end">20</text>
<text transform="translate(899.3 842.1) scale(1 1.05)" text-anchor="end">15</text>
<text transform="translate(899.3 955.1) scale(1 1.05)" text-anchor="end">10</text>
<text transform="translate(899.3 1068.6) scale(1 1.05)" text-anchor="end">5</text>
<text transform="translate(899.3 1182.1) scale(1 1.05)" text-anchor="end">0</text>
<text transform="translate(285 1234.9) scale(1 1.05)" text-anchor="middle">1</text>
<text transform="translate(494 1234.9) scale(1 1.05)" text-anchor="middle">3</text>
<text transform="translate(703.3 1234.9) scale(1 1.05)" text-anchor="middle">7</text>
<text transform="translate(1045.8 1234.9) scale(1 1.05)" text-anchor="middle">1</text>
<text transform="translate(1255.2 1234.9) scale(1 1.05)" text-anchor="middle">3</text>
<text transform="translate(1464.3 1234.9) scale(1 1.05)" text-anchor="middle">7</text>
</g>
<g class="tt b">
<text transform="translate(494.2 27) scale(1 1.005)" text-anchor="middle">CRP</text>
<text transform="translate(1254.6 27) scale(1 1.005)" text-anchor="middle">LMR</text>
<text transform="translate(494.2 626) scale(1 1.005)" text-anchor="middle">MCTSI</text>
<text transform="translate(1254.6 626) scale(1 1.005)" text-anchor="middle">NLR</text>
</g>
<g class="al b">
<g style="font-size:37.2px"><text transform="translate(875.5 1291) scale(1 1.08)" text-anchor="middle">Day</text></g>
<g style="font-size:38px"><text transform="translate(33.7 611.8) rotate(-90) scale(1 1.05)" text-anchor="middle">Value</text></g>
</g>
<g stroke="#333333" stroke-width="2.8">
<rect x="1650.1" y="541.5" width="66.3" height="43.8" fill="#F8766D"/>
<rect x="1650.1" y="589.6" width="66.3" height="43.8" fill="#00BA38"/>
<rect x="1650.1" y="637.7" width="66.3" height="43.8" fill="#619CFF"/>
</g>
<g class="lg">
<text transform="translate(1733.2 575.2) scale(1 1.05)">1</text>
<text transform="translate(1733.2 623.3) scale(1 1.05)">3</text>
<text transform="translate(1733.2 671.4) scale(1 1.05)">7</text>
</g>
</svg>
</body></html>
